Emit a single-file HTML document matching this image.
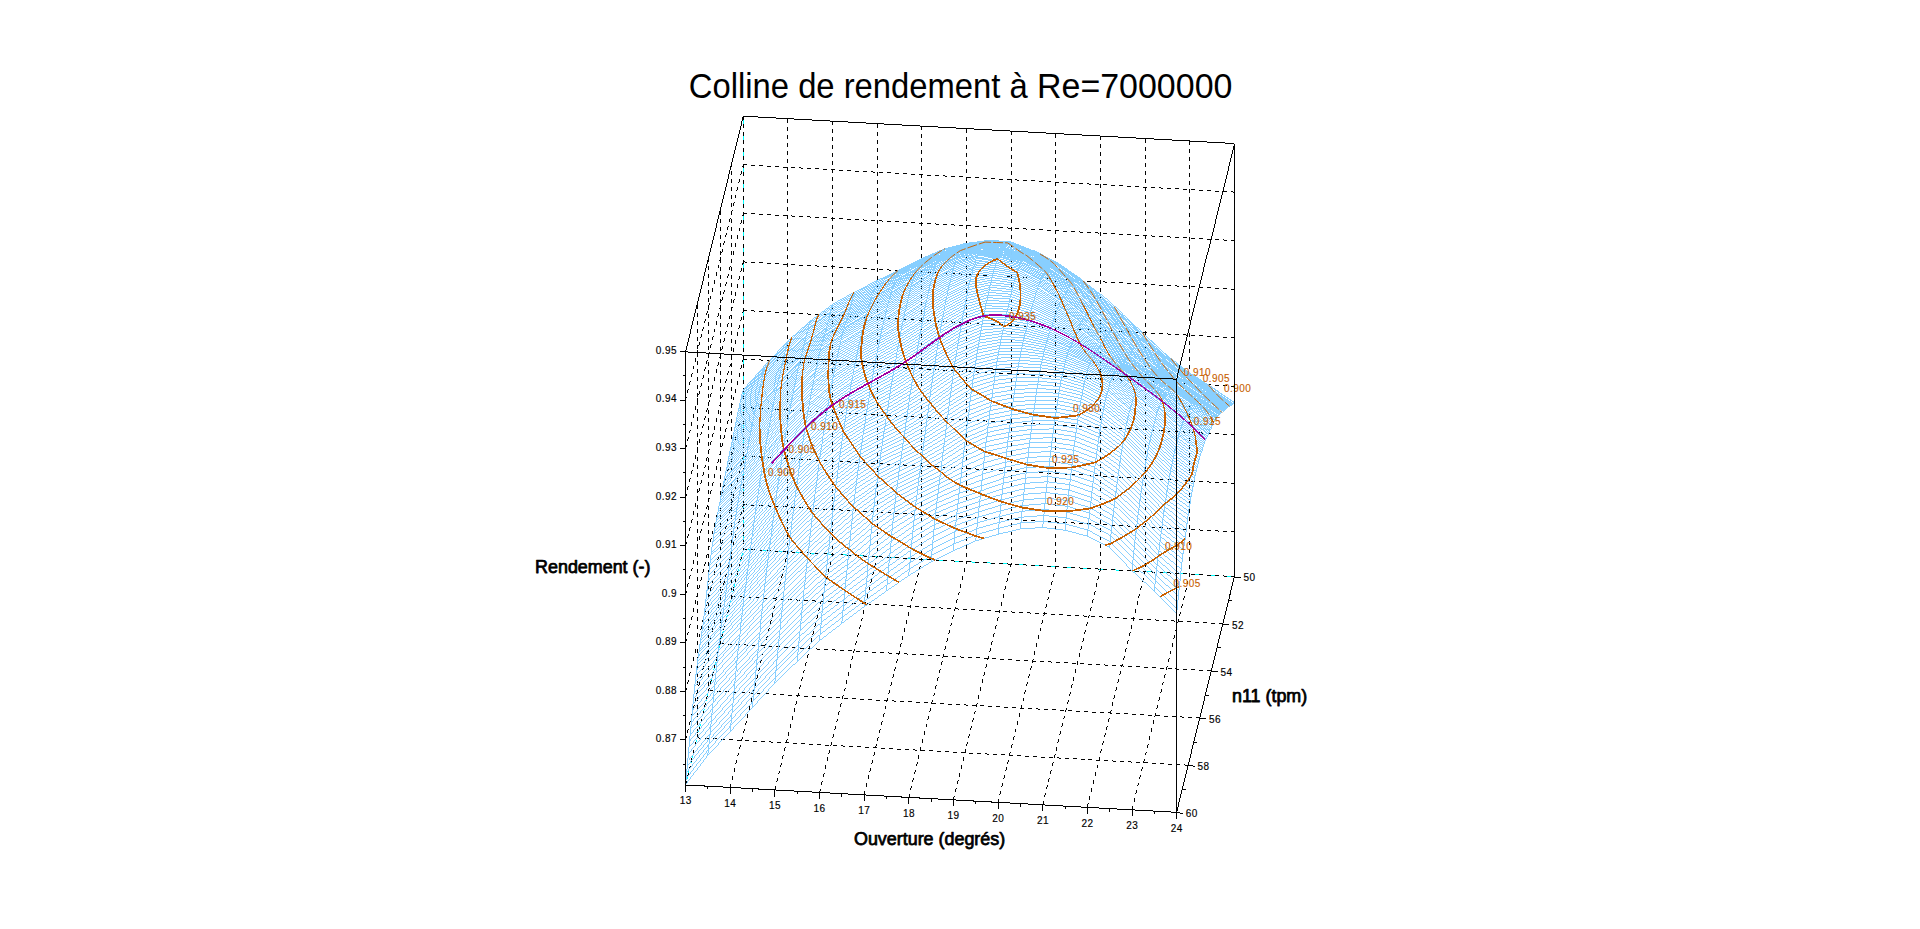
<!DOCTYPE html>
<html lang="fr"><head><meta charset="utf-8"><title>Colline de rendement</title>
<style>html,body{margin:0;padding:0;background:#fff}body{width:1920px;height:929px;overflow:hidden}svg{display:block}text{font-family:"Liberation Sans",sans-serif}</style></head><body>
<svg width="1920" height="929" viewBox="0 0 1920 929">
<rect width="1920" height="929" fill="#fff"/>
<g font-size="33.2" fill="#000">
<text transform="translate(688.85,98.2) scale(0.9876,1.075)">Colline de rendement à</text>
<text transform="translate(1232.4,98.2) scale(1.023,1.075)" text-anchor="end">Re=7000000</text>
</g>
<g shape-rendering="crispEdges" fill="none" stroke-width="0.99">
<path d="M743.3 116.2L743.3 549.3M743.3 549.3L1234.4 576.6M743.3 549.3L685.5 785" stroke="#00ffff" stroke-dasharray="8 8" stroke-dashoffset="12"/>
<path d="M743.3 116.2L743.3 549.3M685.5 785L743.3 549.3M787.9 118.7L787.9 551.8M730.1 787.5L787.9 551.8M832.6 121.2L832.6 554.3M774.8 790L832.6 554.3M877.2 123.7L877.2 556.7M819.4 792.4L877.2 556.7M921.9 126.2L921.9 559.2M864.1 794.9L921.9 559.2M966.5 128.6L966.5 561.7M908.7 797.4L966.5 561.7M1011.2 131.1L1011.2 564.2M953.4 799.9L1011.2 564.2M1055.8 133.6L1055.8 566.7M998 802.4L1055.8 566.7M1100.5 136.1L1100.5 569.2M1042.7 804.9L1100.5 569.2M1145.1 138.6L1145.1 571.6M1087.3 807.3L1145.1 571.6M1189.8 141.1L1189.8 574.1M1132 809.8L1189.8 574.1M1234.4 143.5L1234.4 576.6M1176.6 812.3L1234.4 576.6M743.3 549.3L1234.4 576.6M743.3 116.2L743.3 549.3M731.7 596.4L1222.8 623.7M731.7 163.4L731.7 596.4M720.2 643.6L1211.3 670.9M720.2 210.5L720.2 643.6M708.6 690.7L1199.7 718M708.6 257.7L708.6 690.7M697.1 737.9L1188.2 765.2M697.1 304.8L697.1 737.9M685.5 785L1176.6 812.3M685.5 351.9L685.5 785M743.3 504.6L1234.4 531.9M685.5 740.3L743.3 504.6M743.3 456.1L1234.4 483.4M685.5 691.8L743.3 456.1M743.3 407.5L1234.4 434.8M685.5 643.2L743.3 407.5M743.3 359L1234.4 386.3M685.5 594.7L743.3 359M743.3 310.4L1234.4 337.7M685.5 546.1L743.3 310.4M743.3 261.9L1234.4 289.2M685.5 497.6L743.3 261.9M743.3 213.3L1234.4 240.6M685.5 449L743.3 213.3M743.3 164.8L1234.4 192.1M685.5 400.5L743.3 164.8" stroke="#000" stroke-dasharray="4 4"/>
</g>
<path shape-rendering="crispEdges" fill="none" stroke="#87ceff" stroke-width="0.99" d="M743.3,389.7 765.6,364.7 787.9,340.9 810.3,321 832.6,304.2 854.9,291.9 877.2,280.6 899.6,269.7 921.9,258.4 944.2,249 966.5,243.2 988.8,240.3 1011.2,241.9 1033.5,250.9 1055.8,261.7 1078.1,276.9 1100.5,294.5 1122.8,314.4 1145.1,335 1167.4,355.7 1189.8,373 1212.1,387.3 1234.4,402.5M742.7,391.8 765,366.7 787.4,342.9 809.7,323 832,306.3 854.3,293.7 876.7,282.2 899,271.1 921.3,259.5 943.6,249.8 965.9,243.7 988.3,240.4 1010.6,241.8 1032.9,250.9 1055.2,262.1 1077.6,277.3 1099.9,295.1 1122.2,315.1 1144.5,335.7 1166.8,356.3 1189.2,373.6 1211.5,388 1233.8,403.2M742.1,394 764.5,368.7 786.8,345.1 809.1,325.1 831.4,308.4 853.8,295.6 876.1,283.8 898.4,272.4 920.7,260.7 943,250.7 965.4,244.1 987.7,240.5 1010,241.9 1032.3,250.9 1054.7,262.6 1077,277.8 1099.3,295.8 1121.6,315.8 1143.9,336.4 1166.3,356.8 1188.6,374.1 1210.9,388.7 1233.2,403.7M741.6,396.3 763.9,370.8 786.2,347.3 808.5,327.3 830.9,310.6 853.2,297.6 875.5,285.5 897.8,273.7 920.1,261.9 942.5,251.7 964.8,244.7 987.1,240.7 1009.4,242 1031.8,251 1054.1,263.1 1076.4,278.4 1098.7,296.5 1121,316.5 1143.4,337.1 1165.7,357.3 1188,374.6 1210.3,389.4 1232.7,404.2M741,398.7 763.3,372.9 785.6,349.6 808,329.5 830.3,312.9 852.6,299.6 874.9,287.2 897.2,275.1 919.6,263.1 941.9,252.7 964.2,245.2 986.5,241 1008.9,242.1 1031.2,251.2 1053.5,263.6 1075.8,279 1098.1,297.2 1120.5,317.2 1142.8,337.7 1165.1,357.7 1187.4,375 1209.8,390 1232.1,404.6M740.4,401.1 762.7,375.2 785.1,352 807.4,331.8 829.7,315.2 852,301.7 874.3,289 896.7,276.6 919,264.4 941.3,253.7 963.6,245.9 986,241.3 1008.3,242.3 1030.6,251.6 1052.9,264.2 1075.2,279.6 1097.6,297.9 1119.9,318 1142.2,338.4 1164.5,358.1 1186.9,375.4 1209.2,390.5 1231.5,405M739.8,403.7 762.2,377.6 784.5,354.4 806.8,334.2 829.1,317.5 851.4,303.7 873.8,290.7 896.1,278.1 918.4,265.7 940.7,254.7 963.1,246.6 985.4,241.9 1007.7,242.7 1030,252.1 1052.3,264.8 1074.7,280.2 1097,298.7 1119.3,318.7 1141.6,339 1164,358.6 1186.3,375.8 1208.6,391 1230.9,405.3M739.3,406.4 761.6,380.1 783.9,356.9 806.2,336.6 828.5,319.8 850.9,305.8 873.2,292.5 895.5,279.6 917.8,267.1 940.2,255.8 962.5,247.4 984.8,242.5 1007.1,243.4 1029.4,252.7 1051.8,265.3 1074.1,280.8 1096.4,299.4 1118.7,319.5 1141.1,339.7 1163.4,359.1 1185.7,376.3 1208,391.5 1230.3,405.7M738.7,409.1 761,382.6 783.3,359.4 805.6,339 828,322 850.3,307.9 872.6,294.3 894.9,281.2 917.3,268.5 939.6,256.9 961.9,248.3 984.2,243.3 1006.5,244.4 1028.9,253.4 1051.2,265.9 1073.5,281.3 1095.8,300.1 1118.2,320.2 1140.5,340.3 1162.8,359.6 1185.1,376.8 1207.4,391.9 1229.8,406M738.1,411.8 760.4,385.2 782.7,361.8 805.1,341.3 827.4,324.3 849.7,309.9 872,296.1 894.4,282.8 916.7,269.9 939,258.1 961.3,249.2 983.6,244.2 1006,245.4 1028.3,254.2 1050.6,266.4 1072.9,281.9 1095.3,300.8 1117.6,320.9 1139.9,341 1162.2,360.1 1184.5,377.2 1206.9,392.4 1229.2,406.4M737.5,414.6 759.8,387.8 782.2,364.3 804.5,343.6 826.8,326.4 849.1,312 871.5,297.9 893.8,284.5 916.1,271.4 938.4,259.3 960.7,250.1 983.1,245.1 1005.4,246.4 1027.7,255 1050,267 1072.4,282.4 1094.7,301.4 1117,321.7 1139.3,341.7 1161.6,360.7 1184,377.7 1206.3,392.9 1228.6,406.9M736.9,417.4 759.3,390.4 781.6,366.7 803.9,345.9 826.2,328.5 848.6,313.9 870.9,299.8 893.2,286.2 915.5,272.9 937.8,260.5 960.2,251 982.5,246 1004.8,247.4 1027.1,255.7 1049.5,267.6 1071.8,283 1094.1,302.1 1116.4,322.4 1138.7,342.3 1161.1,361.3 1183.4,378.3 1205.7,393.4 1228,407.4M736.4,420.2 758.7,393.1 781,369.2 803.3,348.2 825.7,330.6 848,315.8 870.3,301.6 892.6,288 914.9,274.5 937.3,261.8 959.6,252 981.9,247 1004.2,248.3 1026.6,256.3 1048.9,268.2 1071.2,283.7 1093.5,302.9 1115.8,323.2 1138.2,343 1160.5,361.9 1182.8,378.8 1205.1,393.8 1227.5,407.9M735.8,423.1 758.1,395.8 780.4,371.7 802.8,350.4 825.1,332.6 847.4,317.6 869.7,303.5 892,289.8 914.4,276.2 936.7,263.1 959,253.1 981.3,247.9 1003.7,249.1 1026,256.9 1048.3,268.9 1070.6,284.4 1092.9,303.6 1115.3,323.9 1137.6,343.7 1159.9,362.5 1182.2,379.3 1204.6,394.3 1226.9,408.4M735.2,426 757.5,398.6 779.9,374.2 802.2,352.7 824.5,334.6 846.8,319.5 869.1,305.4 891.5,291.7 913.8,277.9 936.1,264.6 958.4,254.3 980.8,248.9 1003.1,249.9 1025.4,257.5 1047.7,269.5 1070,285.2 1092.4,304.4 1114.7,324.7 1137,344.4 1159.3,363.1 1181.7,379.9 1204,394.8 1226.3,408.9M734.6,429 757,401.4 779.3,376.8 801.6,355 823.9,336.6 846.2,321.3 868.6,307.3 890.9,293.6 913.2,279.7 935.5,266.1 957.9,255.6 980.2,250 1002.5,250.7 1024.8,258.1 1047.1,270.2 1069.5,286 1091.8,305.2 1114.1,325.5 1136.4,345.2 1158.8,363.7 1181.1,380.4 1203.4,395.3 1225.7,409.4M734.1,431.9 756.4,404.2 778.7,379.3 801,357.2 823.3,338.6 845.7,323.2 868,309.3 890.3,295.6 912.6,281.5 935,267.6 957.3,256.9 979.6,251.1 1001.9,251.5 1024.2,258.7 1046.6,270.8 1068.9,286.9 1091.2,306.1 1113.5,326.3 1135.9,345.9 1158.2,364.3 1180.5,381 1202.8,395.8 1225.1,409.9M733.5,434.9 755.8,407 778.1,381.9 800.4,359.5 822.8,340.6 845.1,325.1 867.4,311.2 889.7,297.6 912.1,283.4 934.4,269.3 956.7,258.3 979,252.2 1001.3,252.3 1023.7,259.4 1046,271.5 1068.3,287.7 1090.6,306.9 1113,327.1 1135.3,346.6 1157.6,365 1179.9,381.5 1202.2,396.3 1224.6,410.3M732.9,437.7 755.2,409.8 777.5,384.5 799.9,361.8 822.2,342.6 844.5,327 866.8,313.3 889.2,299.6 911.5,285.4 933.8,271 956.1,259.8 978.4,253.4 1000.8,253.2 1023.1,260.1 1045.4,272.3 1067.7,288.6 1090.1,307.8 1112.4,327.9 1134.7,347.4 1157,365.6 1179.3,382 1201.7,396.7 1224,410.8M732.3,440.4 754.6,412.6 777,387.1 799.3,364.1 821.6,344.7 843.9,329 866.3,315.3 888.6,301.8 910.9,287.4 933.2,272.9 955.5,261.5 977.9,254.7 1000.2,254.1 1022.5,260.8 1044.8,273.1 1067.2,289.5 1089.5,308.6 1111.8,328.8 1134.1,348.1 1156.4,366.2 1178.8,382.5 1201.1,397.2 1223.4,411.3M731.7,443.1 754.1,415.4 776.4,389.8 798.7,366.5 821,346.9 843.4,331.1 865.7,317.4 888,303.9 910.3,289.6 932.6,274.9 955,263.2 977.3,256 999.6,255 1021.9,261.6 1044.3,274 1066.6,290.5 1088.9,309.5 1111.2,329.6 1133.5,348.9 1155.9,366.8 1178.2,383 1200.5,397.6 1222.8,411.8M731.2,445.8 753.5,418.3 775.8,392.6 798.1,369 820.5,349.1 842.8,333.2 865.1,319.6 887.4,306.2 909.7,291.8 932.1,277.1 954.4,265 976.7,257.5 999,256 1021.4,262.6 1043.7,275 1066,291.5 1088.3,310.4 1110.6,330.4 1133,349.6 1155.3,367.5 1177.6,383.4 1199.9,398 1222.3,412.3M730.6,448.5 752.9,421.2 775.2,395.3 797.6,371.6 819.9,351.5 842.2,335.4 864.5,321.9 886.8,308.4 909.2,294.1 931.5,279.3 953.8,267 976.1,259 998.5,257.1 1020.8,263.6 1043.1,276 1065.4,292.5 1087.7,311.3 1110.1,331.2 1132.4,350.4 1154.7,368.1 1177,383.9 1199.4,398.4 1221.7,412.8M730,451.3 752.3,424.1 774.7,398.1 797,374.3 819.3,353.9 841.6,337.7 863.9,324.2 886.3,310.8 908.6,296.5 930.9,281.6 953.2,269 975.6,260.7 997.9,258.4 1020.2,264.7 1042.5,277.1 1064.8,293.5 1087.2,312.2 1109.5,332 1131.8,351.2 1154.1,368.8 1176.5,384.3 1198.8,398.8 1221.1,413.3M729.4,454.1 751.8,427 774.1,401 796.4,377 818.7,356.4 841,340.1 863.4,326.5 885.7,313.1 908,298.8 930.3,284 952.7,271.1 975,262.5 997.3,259.9 1019.6,265.9 1041.9,278.2 1064.3,294.6 1086.6,313.1 1108.9,332.7 1131.2,351.9 1153.6,369.4 1175.9,384.8 1198.2,399.2 1220.5,413.8M728.8,456.9 751.2,429.9 773.5,403.8 795.8,379.7 818.1,359 840.5,342.6 862.8,328.9 885.1,315.5 907.4,301.3 929.8,286.4 952.1,273.3 974.4,264.3 996.7,261.6 1019,267.2 1041.4,279.3 1063.7,295.6 1086,314 1108.3,333.5 1130.7,352.7 1153,370.1 1175.3,385.3 1197.6,399.6 1219.9,414.3M728.3,459.8 750.6,432.9 772.9,406.7 795.2,382.6 817.6,361.7 839.9,345.1 862.2,331.3 884.5,317.9 906.9,303.8 929.2,288.9 951.5,275.5 973.8,266.3 996.1,263.4 1018.5,268.6 1040.8,280.6 1063.1,296.7 1085.4,314.9 1107.8,334.3 1130.1,353.5 1152.4,370.8 1174.7,385.8 1197,400 1219.4,414.8M727.7,462.7 750,436 772.3,409.7 794.7,385.4 817,364.5 839.3,347.7 861.6,333.8 884,320.4 906.3,306.3 928.6,291.4 950.9,277.9 973.2,268.3 995.6,265.2 1017.9,270 1040.2,281.8 1062.5,297.9 1084.9,315.8 1107.2,335.1 1129.5,354.3 1151.8,371.4 1174.1,386.2 1196.5,400.4 1218.8,415.4M727.1,465.5 749.4,439 771.8,412.7 794.1,388.3 816.4,367.3 838.7,350.3 861.1,336.3 883.4,322.9 905.7,308.8 928,293.9 950.3,280.3 972.7,270.4 995,267.1 1017.3,271.6 1039.6,283.2 1062,299 1084.3,316.8 1106.6,335.9 1128.9,355 1151.2,372.1 1173.6,386.7 1195.9,400.7 1218.2,415.9M726.5,468.4 748.9,442.1 771.2,415.8 793.5,391.2 815.8,370.1 838.2,353 860.5,338.8 882.8,325.4 905.1,311.4 927.4,296.6 949.8,282.7 972.1,272.5 994.4,269.1 1016.7,273.2 1039.1,284.6 1061.4,300.2 1083.7,317.7 1106,336.7 1128.3,355.8 1150.7,372.8 1173,387.1 1195.3,401.1 1217.6,416.5M726,471.3 748.3,445.2 770.6,418.9 792.9,394.1 815.2,372.9 837.6,355.6 859.9,341.4 882.2,328 904.5,314.1 926.9,299.2 949.2,285.3 971.5,274.8 993.8,271.1 1016.2,275 1038.5,286.1 1060.8,301.5 1083.1,318.7 1105.4,337.5 1127.8,356.5 1150.1,373.4 1172.4,387.5 1194.7,401.5 1217.1,417.2M725.4,474.2 747.7,448.4 770,422 792.3,397.1 814.7,375.8 837,358.3 859.3,343.9 881.6,330.5 904,316.7 926.3,302 948.6,287.9 970.9,277.1 993.3,273.2 1015.6,276.9 1037.9,287.6 1060.2,302.7 1082.5,319.7 1104.9,338.2 1127.2,357.2 1149.5,374.1 1171.8,387.8 1194.2,401.9 1216.5,417.9M724.8,477.1 747.1,451.5 769.4,425.2 791.8,400.1 814.1,378.6 836.4,361.1 858.7,346.5 881.1,333.2 903.4,319.4 925.7,304.8 948,290.6 970.4,279.6 992.7,275.4 1015,278.8 1037.3,289.2 1059.6,304 1082,320.7 1104.3,339 1126.6,358 1148.9,374.6 1171.3,388 1193.6,402.4 1215.9,418.7M724.2,480 746.5,454.7 768.9,428.4 791.2,403.1 813.5,381.5 835.8,363.8 858.2,349.1 880.5,335.8 902.8,322.2 925.1,307.6 947.5,293.3 969.8,282.1 992.1,277.6 1014.4,280.9 1036.7,290.9 1059.1,305.3 1081.4,321.8 1103.7,339.8 1126,358.7 1148.4,375.2 1170.7,388.2 1193,403 1215.3,419.6M723.6,483 746,457.9 768.3,431.7 790.6,406.2 812.9,384.5 835.3,366.6 857.6,351.8 879.9,338.5 902.2,325 924.6,310.5 946.9,296.2 969.2,284.6 991.5,280 1013.8,283 1036.2,292.6 1058.5,306.6 1080.8,322.8 1103.1,340.7 1125.5,359.5 1147.8,375.8 1170.1,388.6 1192.4,403.7 1214.7,420.5M723.1,485.9 745.4,461.1 767.7,435 790,409.3 812.4,387.4 834.7,369.4 857,354.4 879.3,341.2 901.6,327.8 924,313.5 946.3,299 968.6,287.3 990.9,282.4 1013.3,285.2 1035.6,294.4 1057.9,308 1080.2,323.9 1102.6,341.6 1124.9,360.2 1147.2,376.3 1169.5,389.3 1191.8,404.6 1214.2,421.6M722.5,488.8 744.8,464.3 767.1,438.3 789.5,412.4 811.8,390.4 834.1,372.2 856.4,357.2 878.7,344 901.1,330.8 923.4,316.5 945.7,302 968,290 990.4,284.8 1012.7,287.4 1035,296.3 1057.3,309.4 1079.7,325.1 1102,342.6 1124.3,361 1146.6,376.9 1168.9,390.1 1191.3,405.6 1213.6,422.7M721.9,491.8 744.2,467.5 766.6,441.8 788.9,415.6 811.2,393.4 833.5,375 855.8,360 878.2,346.9 900.5,333.7 922.8,319.5 945.1,304.9 967.5,292.7 989.8,287.3 1012.1,289.6 1034.4,298.2 1056.8,310.9 1079.1,326.3 1101.4,343.7 1123.7,361.7 1146,377.5 1168.4,391 1190.7,406.7 1213,424M721.3,494.7 743.7,470.7 766,445.2 788.3,418.9 810.6,396.5 832.9,378 855.3,362.9 877.6,349.8 899.9,336.7 922.2,322.6 944.6,307.9 966.9,295.5 989.2,289.8 1011.5,291.9 1033.9,300.2 1056.2,312.5 1078.5,327.6 1100.8,344.7 1123.1,362.4 1145.5,378.1 1167.8,391.8 1190.1,407.9 1212.4,425.4M720.8,497.6 743.1,473.9 765.4,448.6 787.7,422.2 810,399.7 832.4,380.9 854.7,365.8 877,352.8 899.3,339.8 921.7,325.6 944,310.9 966.3,298.4 988.6,292.4 1011,294.3 1033.3,302.2 1055.6,314.1 1077.9,328.9 1100.2,345.8 1122.6,363.1 1144.9,378.7 1167.2,392.7 1189.5,409 1211.9,426.7M720.2,500.5 742.5,477 764.8,452 787.1,425.5 809.5,402.8 831.8,383.9 854.1,368.8 876.4,355.8 898.8,342.9 921.1,328.7 943.4,314 965.7,301.3 988,295 1010.4,296.6 1032.7,304.2 1055,315.7 1077.3,330.2 1099.7,346.9 1122,363.8 1144.3,379.2 1166.6,393.5 1189,410.2 1211.3,428M719.6,503.4 741.9,480.2 764.2,455.4 786.6,428.8 808.9,406.1 831.2,387 853.5,371.9 875.9,358.9 898.2,346 920.5,331.9 942.8,317.1 965.1,304.2 987.5,297.7 1009.8,299.1 1032.1,306.3 1054.4,317.4 1076.8,331.6 1099.1,347.9 1121.4,364.4 1143.7,379.7 1166.1,394.3 1188.4,411.4 1210.7,429.2M719,506.3 741.3,483.4 763.7,458.9 786,432.2 808.3,409.4 830.6,390.1 853,374.9 875.3,362 897.6,349.1 919.9,335 942.2,320.2 964.6,307.2 986.9,300.4 1009.2,301.5 1031.5,308.4 1053.9,319.2 1076.2,333 1098.5,348.9 1120.8,365 1143.2,380.1 1165.5,395 1187.8,412.5 1210.1,430.3M718.4,509.3 740.8,486.6 763.1,462.4 785.4,435.6 807.7,412.7 830.1,393.2 852.4,378 874.7,365.1 897,352.3 919.3,338.2 941.7,323.3 964,310.2 986.3,303.1 1008.6,304 1031,310.6 1053.3,320.9 1075.6,334.4 1097.9,349.9 1120.3,365.6 1142.6,380.6 1164.9,395.7 1187.2,413.6 1209.5,431.5M717.9,512.2 740.2,489.8 762.5,466 784.8,439.2 807.2,416.1 829.5,396.4 851.8,381.1 874.1,368.3 896.4,355.5 918.8,341.5 941.1,326.6 963.4,313.3 985.7,305.8 1008.1,306.5 1030.4,312.8 1052.7,322.7 1075,335.8 1097.4,350.9 1119.7,366.2 1142,381 1164.3,396.4 1186.6,414.7 1209,432.6M717.3,515.2 739.6,493 761.9,469.6 784.3,442.8 806.6,419.4 828.9,399.6 851.2,384.3 873.5,371.4 895.9,358.8 918.2,344.8 940.5,329.8 962.8,316.4 985.2,308.6 1007.5,309.1 1029.8,315 1052.1,324.5 1074.4,337.2 1096.8,351.8 1119.1,366.8 1141.4,381.5 1163.7,397.1 1186.1,415.8 1208.4,433.8M716.7,518.3 739,496.3 761.4,473.2 783.7,446.5 806,422.9 828.3,402.9 850.6,387.5 873,374.7 895.3,362 917.6,348.1 939.9,333.1 962.3,319.5 984.6,311.5 1006.9,311.7 1029.2,317.2 1051.5,326.3 1073.9,338.6 1096.2,352.8 1118.5,367.4 1140.8,382.1 1163.2,397.8 1185.5,416.9 1207.8,435M716.1,521.3 738.5,499.6 760.8,476.7 783.1,450.2 805.4,426.4 827.7,406.3 850.1,390.7 872.4,377.9 894.7,365.4 917,351.4 939.4,336.4 961.7,322.7 984,314.4 1006.3,314.3 1028.6,319.4 1051,328.1 1073.3,340 1095.6,353.7 1117.9,368.1 1140.3,382.8 1162.6,398.8 1184.9,418.1 1207.2,436.2M715.6,524.5 737.9,502.9 760.2,480.3 782.5,453.8 804.8,429.9 827.2,409.8 849.5,394 871.8,381.2 894.1,368.7 916.5,354.8 938.8,339.7 961.1,326 983.4,317.4 1005.7,317 1028.1,321.7 1050.4,329.9 1072.7,341.4 1095,354.7 1117.4,368.8 1139.7,383.6 1162,399.9 1184.3,419.3 1206.7,437.4M715,527.7 737.3,506.4 759.6,484 781.9,457.5 804.3,433.6 826.6,413.3 848.9,397.3 871.2,384.5 893.6,372.1 915.9,358.2 938.2,343.1 960.5,329.3 982.8,320.5 1005.2,319.7 1027.5,323.9 1049.8,331.7 1072.1,342.8 1094.5,355.7 1116.8,369.5 1139.1,384.5 1161.4,401.1 1183.8,420.6 1206.1,438.7M714.4,531.1 736.7,509.9 759,487.7 781.4,461.3 803.7,437.2 826,416.9 848.3,400.7 870.7,387.9 893,375.4 915.3,361.6 937.6,346.5 959.9,332.6 982.3,323.7 1004.6,322.4 1026.9,326.2 1049.2,333.6 1071.6,344.1 1093.9,356.7 1116.2,370.3 1138.5,385.4 1160.8,402.4 1183.2,422 1205.5,440.1M713.8,534.6 736.1,513.5 758.5,491.5 780.8,465.2 803.1,441 825.4,420.6 847.8,404.2 870.1,391.3 892.4,378.9 914.7,365 937,349.9 959.4,336 981.7,326.9 1004,325.2 1026.3,328.5 1048.7,335.4 1071,345.5 1093.3,357.6 1115.6,371.2 1137.9,386.5 1160.3,403.8 1182.6,423.5 1204.9,441.6M713.2,538.5 735.6,517.3 757.9,495.4 780.2,469.2 802.5,444.7 824.9,424.2 847.2,407.6 869.5,394.7 891.8,382.3 914.1,368.5 936.5,353.4 958.8,339.5 981.1,330.2 1003.4,327.9 1025.8,330.8 1048.1,337.3 1070.4,346.9 1092.7,358.6 1115,372.1 1137.4,387.7 1159.7,405.4 1182,425 1204.3,443.1M712.7,542.5 735,521.2 757.3,499.3 779.6,473.2 802,448.5 824.3,428 846.6,411.2 868.9,398.2 891.2,385.8 913.6,372 935.9,356.9 958.2,342.9 980.5,333.5 1002.9,330.7 1025.2,333.1 1047.5,339.1 1069.8,348.2 1092.1,359.6 1114.5,373 1136.8,388.9 1159.1,407 1181.4,426.7 1203.8,444.7M712.1,546.7 734.4,525.3 756.7,503.1 779.1,477.2 801.4,452.3 823.7,431.8 846,414.8 868.3,401.7 890.7,389.4 913,375.6 935.3,360.5 957.6,346.4 980,336.7 1002.3,333.6 1024.6,335.5 1046.9,341.1 1069.2,349.7 1091.6,360.6 1113.9,374 1136.2,390.2 1158.5,408.7 1180.9,428.4 1203.2,446.3M711.5,551 733.8,529.4 756.2,507.1 778.5,481.1 800.8,456.1 823.1,435.7 845.4,418.4 867.8,405.2 890.1,393 912.4,379.2 934.7,364.1 957.1,349.9 979.4,340 1001.7,336.4 1024,337.9 1046.3,343 1068.7,351.1 1091,361.7 1113.3,375.1 1135.6,391.6 1158,410.4 1180.3,430.2 1202.6,447.9M710.9,555.5 733.3,533.7 755.6,511.1 777.9,485.1 800.2,460.1 822.5,439.6 844.9,422.1 867.2,408.8 889.5,396.6 911.8,382.9 934.2,367.8 956.5,353.4 978.8,343.3 1001.1,339.4 1023.4,340.4 1045.8,345.1 1068.1,352.7 1090.4,362.9 1112.7,376.3 1135.1,393.1 1157.4,412.2 1179.7,432.1 1202,449.5M710.4,560.2 732.7,538.2 755,515.2 777.3,489.3 799.6,464.1 822,443.6 844.3,425.8 866.6,412.4 888.9,400.3 911.3,386.7 933.6,371.6 955.9,357 978.2,346.7 1000.5,342.3 1022.9,343 1045.2,347.2 1067.5,354.3 1089.8,364.2 1112.2,377.5 1134.5,394.7 1156.8,414.1 1179.1,434.1 1201.4,451.2M709.8,565.2 732.1,542.7 754.4,519.4 776.7,493.5 799.1,468.3 821.4,447.6 843.7,429.6 866,416 888.4,404.1 910.7,390.5 933,375.4 955.3,360.6 977.6,350 1000,345.4 1022.3,345.6 1044.6,349.4 1066.9,356.1 1089.3,365.6 1111.6,378.9 1133.9,396.4 1156.2,416.1 1178.5,436.1 1200.9,453M709.2,570.3 731.5,547.3 753.8,523.6 776.2,497.8 798.5,472.5 820.8,451.6 843.1,433.3 865.5,419.7 887.8,407.9 910.1,394.4 932.4,379.3 954.7,364.2 977.1,353.4 999.4,348.4 1021.7,348.3 1044,351.7 1066.4,357.9 1088.7,367.1 1111,380.4 1133.3,398.2 1155.6,418.2 1178,438.3 1200.3,454.9M708.6,575.4 730.9,552.1 753.3,527.9 775.6,502.1 797.9,476.8 820.2,455.6 842.6,437.2 864.9,423.4 887.2,411.7 909.5,398.4 931.8,383.3 954.2,368 976.5,356.9 998.8,351.6 1021.1,351.1 1043.5,354.1 1065.8,359.9 1088.1,368.7 1110.4,382 1132.7,400 1155.1,420.3 1177.4,440.5 1199.7,457.2M708,580.6 730.4,556.8 752.7,532.3 775,506.4 797.3,481.1 819.7,459.6 842,441.1 864.3,427.1 886.6,415.4 908.9,402.4 931.3,387.4 953.6,371.9 975.9,360.4 998.2,354.8 1020.6,354 1042.9,356.6 1065.2,362 1087.5,370.5 1109.8,383.7 1132.2,401.9 1154.5,422.4 1176.8,442.8 1199.1,459.6M707.5,585.9 729.8,561.6 752.1,536.6 774.4,510.6 796.8,485.4 819.1,463.8 841.4,445.2 863.7,430.9 886,419.2 908.4,406.4 930.7,391.6 953,375.9 975.3,364 997.7,358.2 1020,357 1042.3,359.2 1064.6,364.2 1086.9,372.4 1109.3,385.5 1131.6,403.9 1153.9,424.6 1176.2,445.1 1198.6,462M706.9,591 729.2,566.4 751.5,541 773.9,514.9 796.2,489.7 818.5,468 840.8,449.3 863.1,434.7 885.5,423 907.8,410.4 930.1,395.9 952.4,380 974.8,367.7 997.1,361.6 1019.4,360.2 1041.7,361.9 1064,366.5 1086.4,374.5 1108.7,387.4 1131,405.9 1153.3,426.8 1175.7,447.5 1198,464.4M706.3,596.1 728.6,571.2 751,545.4 773.3,519.3 795.6,494 817.9,472.2 840.2,453.4 862.6,438.5 884.9,426.8 907.2,414.5 929.5,400.1 951.9,384.2 974.2,371.4 996.5,365.1 1018.8,363.4 1041.1,364.8 1063.5,369 1085.8,376.7 1108.1,389.5 1130.4,408 1152.8,429.1 1175.1,449.9 1197.4,466.8M705.7,601.1 728.1,576 750.4,549.9 772.7,523.6 795,498.4 817.3,476.5 839.7,457.5 862,442.4 884.3,430.6 906.6,418.6 929,404.4 951.3,388.4 973.6,375.3 995.9,368.8 1018.2,366.8 1040.6,367.8 1062.9,371.6 1085.2,379 1107.5,391.6 1129.9,410.1 1152.2,431.4 1174.5,452.3 1196.8,469.1M705.2,606.1 727.5,580.7 749.8,554.3 772.1,528 794.4,502.8 816.8,480.8 839.1,461.8 861.4,446.3 883.7,434.4 906.1,422.6 928.4,408.8 950.7,392.8 973,379.2 995.3,372.6 1017.7,370.3 1040,370.9 1062.3,374.4 1084.6,381.4 1107,393.9 1129.3,412.3 1151.6,433.8 1173.9,454.7 1196.2,471.4M704.6,611 726.9,585.3 749.2,558.7 771.5,532.3 793.9,507.2 816.2,485.2 838.5,466 860.8,450.3 883.2,438.2 905.5,426.7 927.8,413.1 950.1,397.2 972.4,383.4 994.8,376.5 1017.1,373.9 1039.4,374.2 1061.7,377.2 1084.1,384 1106.4,396.2 1128.7,414.5 1151,436.2 1173.3,457.2 1195.7,473.5M704,615.8 726.3,589.9 748.6,563.1 771,536.7 793.3,511.6 815.6,489.6 837.9,470.4 860.3,454.3 882.6,442.1 904.9,430.7 927.2,417.4 949.5,401.7 971.9,387.7 994.2,380.5 1016.5,377.6 1038.8,377.6 1061.2,380.2 1083.5,386.7 1105.8,398.7 1128.1,416.9 1150.4,438.8 1172.8,459.8 1195.1,475.7M703.4,620.5 725.7,594.3 748.1,567.4 770.4,541 792.7,516.1 815,494 837.4,474.8 859.7,458.4 882,445.9 904.3,434.7 926.6,421.8 949,406.3 971.3,392.2 993.6,384.6 1015.9,381.5 1038.3,381.1 1060.6,383.4 1082.9,389.5 1105.2,401.3 1127.5,419.3 1149.9,441.4 1172.2,462.5 1194.5,478.4M702.8,625.1 725.2,598.7 747.5,571.8 769.8,545.5 792.1,520.6 814.5,498.6 836.8,479.2 859.1,462.5 881.4,449.8 903.7,438.7 926.1,426 948.4,410.8 970.7,396.7 993,388.9 1015.4,385.4 1037.7,384.7 1060,386.6 1082.3,392.5 1104.6,404 1127,421.9 1149.3,444 1171.6,465.3 1193.9,481.4M702.3,629.4 724.6,602.9 746.9,576.1 769.2,549.9 791.6,525.1 813.9,503.2 836.2,483.7 858.5,466.7 880.8,453.8 903.2,442.7 925.5,430.3 947.8,415.4 970.1,401.3 992.5,393.2 1014.8,389.5 1037.1,388.4 1059.4,390 1081.7,395.5 1104.1,406.9 1126.4,424.6 1148.7,446.8 1171,468.2 1193.4,484.6M701.7,633.4 724,607.1 746.3,580.5 768.7,554.4 791,529.7 813.3,507.9 835.6,488.3 857.9,471 880.3,457.8 902.6,446.8 924.9,434.5 947.2,419.9 969.6,405.9 991.9,397.6 1014.2,393.6 1036.5,392.2 1058.8,393.4 1081.2,398.7 1103.5,409.8 1125.8,427.4 1148.1,449.6 1170.5,471.2 1192.8,487.7M701.1,637.2 723.4,611.2 745.8,584.9 768.1,559 790.4,534.4 812.7,512.7 835,492.9 857.4,475.3 879.7,461.8 902,450.8 924.3,438.7 946.7,424.5 969,410.5 991.3,402 1013.6,397.8 1035.9,396.1 1058.3,397 1080.6,402 1102.9,412.9 1125.2,430.4 1147.6,452.5 1169.9,474.3 1192.2,490.8M700.5,641 722.9,615.3 745.2,589.2 767.5,563.6 789.8,539.3 812.1,517.5 834.5,497.6 856.8,479.8 879.1,466 901.4,454.8 923.8,443 946.1,429 968.4,415.1 990.7,406.3 1013,402 1035.4,400.1 1057.7,400.7 1080,405.4 1102.3,416.1 1124.7,433.4 1147,455.6 1169.3,477.5 1191.6,494M699.9,644.7 722.3,619.3 744.6,593.7 766.9,568.3 789.2,544.2 811.6,522.5 833.9,502.3 856.2,484.3 878.5,470.2 900.9,458.9 923.2,447.2 945.5,433.5 967.8,419.6 990.1,410.6 1012.5,406.2 1034.8,404.1 1057.1,404.5 1079.4,408.9 1101.8,419.4 1124.1,436.5 1146.4,458.7 1168.7,480.7 1191,497.1M699.4,648.5 721.7,623.5 744,598.2 766.3,573.1 788.7,549.2 811,527.6 833.3,507.2 855.6,489 878,474.5 900.3,463 922.6,451.5 944.9,438 967.2,424.1 989.6,414.9 1011.9,410.5 1034.2,408.2 1056.5,408.3 1078.9,412.6 1101.2,422.8 1123.5,439.8 1145.8,461.9 1168.1,484.2 1190.5,500.5M698.8,652.4 721.1,627.7 743.4,602.8 765.8,578 788.1,554.3 810.4,532.7 832.7,512.2 855.1,493.7 877.4,478.9 899.7,467.1 922,455.8 944.3,442.6 966.7,428.6 989,419.2 1011.3,414.7 1033.6,412.4 1056,412.3 1078.3,416.3 1100.6,426.3 1122.9,443.1 1145.2,465.3 1167.6,487.7 1189.9,503.9M698.2,656.4 720.5,632 742.9,607.4 765.2,582.9 787.5,559.5 809.8,537.9 832.2,517.3 854.5,498.6 876.8,483.3 899.1,471.3 921.4,460.1 943.8,447.1 966.1,433 988.4,423.6 1010.7,419 1033.1,416.6 1055.4,416.3 1077.7,420.2 1100,430 1122.3,446.6 1144.7,468.8 1167,491.4 1189.3,507.4M697.6,660.6 720,636.5 742.3,612.2 764.6,587.9 786.9,564.7 809.3,543.1 831.6,522.4 853.9,503.5 876.2,487.8 898.5,475.5 920.9,464.4 943.2,451.7 965.5,437.5 987.8,428 1010.2,423.4 1032.5,420.8 1054.8,420.4 1077.1,424.1 1099.4,433.7 1121.8,450.2 1144.1,472.4 1166.4,495.2 1188.7,511.1M697.1,665.1 719.4,641.2 741.7,617.1 764,593 786.3,569.9 808.7,548.3 831,527.6 853.3,508.6 875.6,492.5 898,479.8 920.3,468.7 942.6,456.4 964.9,442.1 987.3,432.5 1009.6,427.8 1031.9,425.1 1054.2,424.6 1076.5,428.2 1098.9,437.5 1121.2,453.9 1143.5,476.1 1165.8,499 1188.2,514.9M696.5,670.1 718.8,646.1 741.1,622.1 763.4,598.1 785.8,575.1 808.1,553.5 830.4,532.9 852.7,513.7 875.1,497.2 897.4,484.2 919.7,473 942,461.1 964.4,446.9 986.7,437.1 1009,432.3 1031.3,429.4 1053.6,428.9 1076,432.4 1098.3,441.5 1120.6,457.8 1142.9,479.9 1165.3,502.8 1187.6,519M695.9,675.4 718.2,651.2 740.5,627.2 762.9,603.3 785.2,580.4 807.5,558.6 829.8,538.2 852.2,519 874.5,502 896.8,488.6 919.1,477.3 941.5,465.9 963.8,451.9 986.1,441.8 1008.4,437 1030.7,433.9 1053.1,433.3 1075.4,436.7 1097.7,445.6 1120,461.7 1142.4,483.8 1164.7,506.8 1187,523.8M695.3,680.9 717.6,656.5 740,632.5 762.3,608.6 784.6,585.6 806.9,563.8 829.3,543.5 851.6,524.5 873.9,507 896.2,493.1 918.6,481.7 940.9,470.7 963.2,456.9 985.5,446.6 1007.8,441.8 1030.2,438.4 1052.5,437.7 1074.8,441.1 1097.1,449.8 1119.5,465.8 1141.8,487.7 1164.1,510.8 1186.4,528.8M694.7,686.6 717.1,661.9 739.4,637.8 761.7,614 784,590.9 806.4,569 828.7,548.8 851,530 873.3,512 895.7,497.7 918,486.1 940.3,475.2 962.6,462 984.9,451.7 1007.3,446.8 1029.6,443 1051.9,442.3 1074.2,445.6 1096.6,454 1118.9,470 1141.2,491.8 1163.5,515 1185.8,533.5M694.2,692.4 716.5,667.5 738.8,643.3 761.1,619.4 783.5,596.3 805.8,574.3 828.1,554.1 850.4,535.7 872.7,517.2 895.1,502.5 917.4,490.5 939.7,479.7 962,467.2 984.4,457.2 1006.7,451.8 1029,447.7 1051.3,446.9 1073.7,450.2 1096,458.4 1118.3,474.2 1140.6,495.9 1162.9,519.2 1185.3,537.5M693.6,698.3 715.9,673.2 738.2,648.8 760.6,624.9 782.9,601.7 805.2,579.5 827.5,559.3 849.8,541.5 872.2,522.5 894.5,507.4 916.8,495.1 939.1,484.2 961.5,472.5 983.8,462.8 1006.1,456.9 1028.4,452.5 1050.8,451.6 1073.1,454.9 1095.4,463 1117.7,478.6 1140,500 1162.4,523.4 1184.7,541.6M693,704.3 715.3,679 737.7,654.5 760,630.5 782.3,607.1 804.6,584.9 826.9,564.6 849.3,547.3 871.6,528.1 893.9,512.5 916.2,499.8 938.6,488.8 960.9,477.7 983.2,468.5 1005.5,462.1 1027.9,457.4 1050.2,456.4 1072.5,459.7 1094.8,467.6 1117.1,483 1139.5,504.3 1161.8,527.8 1184.1,545.7M692.4,710.3 714.8,684.9 737.1,660.2 759.4,636.1 781.7,612.7 804,590.3 826.4,569.9 848.7,553.1 871,533.9 893.3,517.9 915.7,504.7 938,493.4 960.3,483 982.6,474.2 1005,467.3 1027.3,462.4 1049.6,461.3 1071.9,464.6 1094.2,472.4 1116.6,487.5 1138.9,508.7 1161.2,532.2 1183.5,549.7M691.9,716.5 714.2,690.8 736.5,665.9 758.8,641.8 781.1,618.3 803.5,595.8 825.8,575.3 848.1,558.7 870.4,539.9 892.8,523.4 915.1,509.8 937.4,498.2 959.7,488.2 982.1,479.8 1004.4,472.6 1026.7,467.5 1049,466.3 1071.3,469.5 1093.7,477.2 1116,492 1138.3,513.2 1160.6,536.7 1183,554.2M691.3,722.6 713.6,696.8 735.9,671.8 758.2,647.5 780.6,623.9 802.9,601.3 825.2,580.8 847.5,564.3 869.9,546 892.2,529.2 914.5,515.2 936.8,503.1 959.1,493.4 981.5,485.4 1003.8,477.9 1026.1,472.7 1048.4,471.4 1070.8,474.5 1093.1,482.1 1115.4,496.6 1137.7,517.8 1160.1,541.3 1182.4,559.1M690.7,728.8 713,702.8 735.3,677.7 757.7,653.4 780,629.6 802.3,607 824.6,586.5 847,569.9 869.3,552 891.6,535.3 913.9,520.7 936.2,508.1 958.6,498.6 980.9,490.9 1003.2,483.3 1025.5,478 1047.9,476.5 1070.2,479.5 1092.5,487.1 1114.8,501.2 1137.2,522.4 1159.5,545.9 1181.8,564.1M690.1,735 712.4,708.8 734.8,683.6 757.1,659.2 779.4,635.4 801.7,612.8 824.1,592.4 846.4,575.6 868.7,558.2 891,541.5 913.3,526.4 935.7,513.3 958,503.7 980.3,496.2 1002.6,488.8 1025,483.4 1047.3,481.8 1069.6,484.6 1091.9,492.2 1114.3,505.9 1136.6,527.1 1158.9,550.5 1181.2,569.2M689.5,741.2 711.9,714.7 734.2,689.5 756.5,665.1 778.8,641.3 801.2,618.7 823.5,598.4 845.8,581.4 868.1,564.3 890.4,547.7 912.8,532.2 935.1,518.7 957.4,508.9 979.7,501.4 1002.1,494.2 1024.4,488.8 1046.7,487.1 1069,489.9 1091.4,497.3 1113.7,510.8 1136,531.9 1158.3,555.1 1180.6,574.5M689,747.4 711.3,720.7 733.6,695.5 755.9,671.1 778.3,647.2 800.6,624.7 822.9,604.4 845.2,587.3 867.5,570.4 889.9,553.9 912.2,538.1 934.5,524.4 956.8,514.2 979.2,506.6 1001.5,499.7 1023.8,494.3 1046.1,492.6 1068.5,495.2 1090.8,502.5 1113.1,515.7 1135.4,536.8 1157.7,559.9 1180.1,579.7M688.4,753.7 710.7,726.6 733,701.5 755.4,677.1 777.7,653.1 800,630.7 822.3,610.4 844.6,593.2 867,576.5 889.3,560 911.6,544.1 933.9,530.2 956.3,519.7 978.6,511.9 1000.9,505.2 1023.2,499.9 1045.5,498.1 1067.9,500.7 1090.2,507.8 1112.5,520.7 1134.8,541.9 1157.2,564.8 1179.5,585M687.8,760 710.1,732.5 732.5,707.5 754.8,683.2 777.1,659.1 799.4,636.8 821.7,616.4 844.1,599.2 866.4,582.6 888.7,566.2 911,550.2 933.4,536.3 955.7,525.4 978,517.3 1000.3,510.8 1022.6,505.5 1045,503.7 1067.3,506.3 1089.6,513.2 1111.9,525.8 1134.3,547.2 1156.6,569.8 1178.9,590.5M687.2,766.2 709.6,738.3 731.9,713.5 754.2,689.2 776.5,665.1 798.8,642.9 821.2,622.5 843.5,605.2 865.8,588.7 888.1,572.4 910.5,556.4 932.8,542.6 955.1,531.4 977.4,522.9 999.7,516.5 1022.1,511.2 1044.4,509.5 1066.7,512 1089,518.7 1111.4,531 1133.7,552.7 1156,574.9 1178.3,596.4M686.7,772.4 709,744 731.3,719.6 753.6,695.3 775.9,671.1 798.3,649.1 820.6,628.6 842.9,611.3 865.2,594.7 887.6,578.6 909.9,562.8 932.2,549 954.5,537.7 976.8,528.6 999.2,522.4 1021.5,517.1 1043.8,515.4 1066.1,518 1088.5,524.3 1110.8,536.3 1133.1,558.6 1155.4,580.2 1177.8,602.4M686.1,778.6 708.4,749.7 730.7,725.7 753,701.4 775.4,677.1 797.7,655.3 820,634.6 842.3,617.3 864.7,600.8 887,584.8 909.3,569.2 931.6,555.4 953.9,544.1 976.3,534.7 998.6,528.3 1020.9,523 1043.2,521.4 1065.6,524 1087.9,530.1 1110.2,541.8 1132.5,564.6 1154.9,585.5 1177.2,608.3M685.5,784.6 707.8,755.4 730.1,731.7 752.5,707.4 774.8,683.2 797.1,661.5 819.4,640.7 841.8,623.5 864.1,606.8 886.4,591 908.7,575.6 931,562 953.4,550.7 975.7,540.9 998,534.3 1020.3,529 1042.7,527.5 1065,530.2 1087.3,536.1 1109.6,547.4 1131.9,570.6 1154.3,590.9 1176.6,613.9M743.3,389.7 742.7,391.8 742.1,394 741.6,396.3 741,398.7 740.4,401.1 739.8,403.7 739.3,406.4 738.7,409.1 738.1,411.8 737.5,414.6 736.9,417.4 736.4,420.2 735.8,423.1 735.2,426 734.6,429 734.1,431.9 733.5,434.9 732.9,437.7 732.3,440.4 731.7,443.1 731.2,445.8 730.6,448.5 730,451.3 729.4,454.1 728.8,456.9 728.3,459.8 727.7,462.7 727.1,465.5 726.5,468.4 726,471.3 725.4,474.2 724.8,477.1 724.2,480 723.6,483 723.1,485.9 722.5,488.8 721.9,491.8 721.3,494.7 720.8,497.6 720.2,500.5 719.6,503.4 719,506.3 718.4,509.3 717.9,512.2 717.3,515.2 716.7,518.3 716.1,521.3 715.6,524.5 715,527.7 714.4,531.1 713.8,534.6 713.2,538.5 712.7,542.5 712.1,546.7 711.5,551 710.9,555.5 710.4,560.2 709.8,565.2 709.2,570.3 708.6,575.4 708,580.6 707.5,585.9 706.9,591 706.3,596.1 705.7,601.1 705.2,606.1 704.6,611 704,615.8 703.4,620.5 702.8,625.1 702.3,629.4 701.7,633.4 701.1,637.2 700.5,641 699.9,644.7 699.4,648.5 698.8,652.4 698.2,656.4 697.6,660.6 697.1,665.1 696.5,670.1 695.9,675.4 695.3,680.9 694.7,686.6 694.2,692.4 693.6,698.3 693,704.3 692.4,710.3 691.9,716.5 691.3,722.6 690.7,728.8 690.1,735 689.5,741.2 689,747.4 688.4,753.7 687.8,760 687.2,766.2 686.7,772.4 686.1,778.6 685.5,784.6M765.6,364.7 765,366.7 764.5,368.7 763.9,370.8 763.3,372.9 762.7,375.2 762.2,377.6 761.6,380.1 761,382.6 760.4,385.2 759.8,387.8 759.3,390.4 758.7,393.1 758.1,395.8 757.5,398.6 757,401.4 756.4,404.2 755.8,407 755.2,409.8 754.6,412.6 754.1,415.4 753.5,418.3 752.9,421.2 752.3,424.1 751.8,427 751.2,429.9 750.6,432.9 750,436 749.4,439 748.9,442.1 748.3,445.2 747.7,448.4 747.1,451.5 746.5,454.7 746,457.9 745.4,461.1 744.8,464.3 744.2,467.5 743.7,470.7 743.1,473.9 742.5,477 741.9,480.2 741.3,483.4 740.8,486.6 740.2,489.8 739.6,493 739,496.3 738.5,499.6 737.9,502.9 737.3,506.4 736.7,509.9 736.1,513.5 735.6,517.3 735,521.2 734.4,525.3 733.8,529.4 733.3,533.7 732.7,538.2 732.1,542.7 731.5,547.3 730.9,552.1 730.4,556.8 729.8,561.6 729.2,566.4 728.6,571.2 728.1,576 727.5,580.7 726.9,585.3 726.3,589.9 725.7,594.3 725.2,598.7 724.6,602.9 724,607.1 723.4,611.2 722.9,615.3 722.3,619.3 721.7,623.5 721.1,627.7 720.5,632 720,636.5 719.4,641.2 718.8,646.1 718.2,651.2 717.6,656.5 717.1,661.9 716.5,667.5 715.9,673.2 715.3,679 714.8,684.9 714.2,690.8 713.6,696.8 713,702.8 712.4,708.8 711.9,714.7 711.3,720.7 710.7,726.6 710.1,732.5 709.6,738.3 709,744 708.4,749.7 707.8,755.4M787.9,340.9 787.4,342.9 786.8,345.1 786.2,347.3 785.6,349.6 785.1,352 784.5,354.4 783.9,356.9 783.3,359.4 782.7,361.8 782.2,364.3 781.6,366.7 781,369.2 780.4,371.7 779.9,374.2 779.3,376.8 778.7,379.3 778.1,381.9 777.5,384.5 777,387.1 776.4,389.8 775.8,392.6 775.2,395.3 774.7,398.1 774.1,401 773.5,403.8 772.9,406.7 772.3,409.7 771.8,412.7 771.2,415.8 770.6,418.9 770,422 769.4,425.2 768.9,428.4 768.3,431.7 767.7,435 767.1,438.3 766.6,441.8 766,445.2 765.4,448.6 764.8,452 764.2,455.4 763.7,458.9 763.1,462.4 762.5,466 761.9,469.6 761.4,473.2 760.8,476.7 760.2,480.3 759.6,484 759,487.7 758.5,491.5 757.9,495.4 757.3,499.3 756.7,503.1 756.2,507.1 755.6,511.1 755,515.2 754.4,519.4 753.8,523.6 753.3,527.9 752.7,532.3 752.1,536.6 751.5,541 751,545.4 750.4,549.9 749.8,554.3 749.2,558.7 748.6,563.1 748.1,567.4 747.5,571.8 746.9,576.1 746.3,580.5 745.8,584.9 745.2,589.2 744.6,593.7 744,598.2 743.4,602.8 742.9,607.4 742.3,612.2 741.7,617.1 741.1,622.1 740.5,627.2 740,632.5 739.4,637.8 738.8,643.3 738.2,648.8 737.7,654.5 737.1,660.2 736.5,665.9 735.9,671.8 735.3,677.7 734.8,683.6 734.2,689.5 733.6,695.5 733,701.5 732.5,707.5 731.9,713.5 731.3,719.6 730.7,725.7 730.1,731.7M810.3,321 809.7,323 809.1,325.1 808.5,327.3 808,329.5 807.4,331.8 806.8,334.2 806.2,336.6 805.6,339 805.1,341.3 804.5,343.6 803.9,345.9 803.3,348.2 802.8,350.4 802.2,352.7 801.6,355 801,357.2 800.4,359.5 799.9,361.8 799.3,364.1 798.7,366.5 798.1,369 797.6,371.6 797,374.3 796.4,377 795.8,379.7 795.2,382.6 794.7,385.4 794.1,388.3 793.5,391.2 792.9,394.1 792.3,397.1 791.8,400.1 791.2,403.1 790.6,406.2 790,409.3 789.5,412.4 788.9,415.6 788.3,418.9 787.7,422.2 787.1,425.5 786.6,428.8 786,432.2 785.4,435.6 784.8,439.2 784.3,442.8 783.7,446.5 783.1,450.2 782.5,453.8 781.9,457.5 781.4,461.3 780.8,465.2 780.2,469.2 779.6,473.2 779.1,477.2 778.5,481.1 777.9,485.1 777.3,489.3 776.7,493.5 776.2,497.8 775.6,502.1 775,506.4 774.4,510.6 773.9,514.9 773.3,519.3 772.7,523.6 772.1,528 771.5,532.3 771,536.7 770.4,541 769.8,545.5 769.2,549.9 768.7,554.4 768.1,559 767.5,563.6 766.9,568.3 766.3,573.1 765.8,578 765.2,582.9 764.6,587.9 764,593 763.4,598.1 762.9,603.3 762.3,608.6 761.7,614 761.1,619.4 760.6,624.9 760,630.5 759.4,636.1 758.8,641.8 758.2,647.5 757.7,653.4 757.1,659.2 756.5,665.1 755.9,671.1 755.4,677.1 754.8,683.2 754.2,689.2 753.6,695.3 753,701.4 752.5,707.4M832.6,304.2 832,306.3 831.4,308.4 830.9,310.6 830.3,312.9 829.7,315.2 829.1,317.5 828.5,319.8 828,322 827.4,324.3 826.8,326.4 826.2,328.5 825.7,330.6 825.1,332.6 824.5,334.6 823.9,336.6 823.3,338.6 822.8,340.6 822.2,342.6 821.6,344.7 821,346.9 820.5,349.1 819.9,351.5 819.3,353.9 818.7,356.4 818.1,359 817.6,361.7 817,364.5 816.4,367.3 815.8,370.1 815.2,372.9 814.7,375.8 814.1,378.6 813.5,381.5 812.9,384.5 812.4,387.4 811.8,390.4 811.2,393.4 810.6,396.5 810,399.7 809.5,402.8 808.9,406.1 808.3,409.4 807.7,412.7 807.2,416.1 806.6,419.4 806,422.9 805.4,426.4 804.8,429.9 804.3,433.6 803.7,437.2 803.1,441 802.5,444.7 802,448.5 801.4,452.3 800.8,456.1 800.2,460.1 799.6,464.1 799.1,468.3 798.5,472.5 797.9,476.8 797.3,481.1 796.8,485.4 796.2,489.7 795.6,494 795,498.4 794.4,502.8 793.9,507.2 793.3,511.6 792.7,516.1 792.1,520.6 791.6,525.1 791,529.7 790.4,534.4 789.8,539.3 789.2,544.2 788.7,549.2 788.1,554.3 787.5,559.5 786.9,564.7 786.3,569.9 785.8,575.1 785.2,580.4 784.6,585.6 784,590.9 783.5,596.3 782.9,601.7 782.3,607.1 781.7,612.7 781.1,618.3 780.6,623.9 780,629.6 779.4,635.4 778.8,641.3 778.3,647.2 777.7,653.1 777.1,659.1 776.5,665.1 775.9,671.1 775.4,677.1 774.8,683.2M854.9,291.9 854.3,293.7 853.8,295.6 853.2,297.6 852.6,299.6 852,301.7 851.4,303.7 850.9,305.8 850.3,307.9 849.7,309.9 849.1,312 848.6,313.9 848,315.8 847.4,317.6 846.8,319.5 846.2,321.3 845.7,323.2 845.1,325.1 844.5,327 843.9,329 843.4,331.1 842.8,333.2 842.2,335.4 841.6,337.7 841,340.1 840.5,342.6 839.9,345.1 839.3,347.7 838.7,350.3 838.2,353 837.6,355.6 837,358.3 836.4,361.1 835.8,363.8 835.3,366.6 834.7,369.4 834.1,372.2 833.5,375 832.9,378 832.4,380.9 831.8,383.9 831.2,387 830.6,390.1 830.1,393.2 829.5,396.4 828.9,399.6 828.3,402.9 827.7,406.3 827.2,409.8 826.6,413.3 826,416.9 825.4,420.6 824.9,424.2 824.3,428 823.7,431.8 823.1,435.7 822.5,439.6 822,443.6 821.4,447.6 820.8,451.6 820.2,455.6 819.7,459.6 819.1,463.8 818.5,468 817.9,472.2 817.3,476.5 816.8,480.8 816.2,485.2 815.6,489.6 815,494 814.5,498.6 813.9,503.2 813.3,507.9 812.7,512.7 812.1,517.5 811.6,522.5 811,527.6 810.4,532.7 809.8,537.9 809.3,543.1 808.7,548.3 808.1,553.5 807.5,558.6 806.9,563.8 806.4,569 805.8,574.3 805.2,579.5 804.6,584.9 804,590.3 803.5,595.8 802.9,601.3 802.3,607 801.7,612.8 801.2,618.7 800.6,624.7 800,630.7 799.4,636.8 798.8,642.9 798.3,649.1 797.7,655.3 797.1,661.5M877.2,280.6 876.7,282.2 876.1,283.8 875.5,285.5 874.9,287.2 874.3,289 873.8,290.7 873.2,292.5 872.6,294.3 872,296.1 871.5,297.9 870.9,299.8 870.3,301.6 869.7,303.5 869.1,305.4 868.6,307.3 868,309.3 867.4,311.2 866.8,313.3 866.3,315.3 865.7,317.4 865.1,319.6 864.5,321.9 863.9,324.2 863.4,326.5 862.8,328.9 862.2,331.3 861.6,333.8 861.1,336.3 860.5,338.8 859.9,341.4 859.3,343.9 858.7,346.5 858.2,349.1 857.6,351.8 857,354.4 856.4,357.2 855.8,360 855.3,362.9 854.7,365.8 854.1,368.8 853.5,371.9 853,374.9 852.4,378 851.8,381.1 851.2,384.3 850.6,387.5 850.1,390.7 849.5,394 848.9,397.3 848.3,400.7 847.8,404.2 847.2,407.6 846.6,411.2 846,414.8 845.4,418.4 844.9,422.1 844.3,425.8 843.7,429.6 843.1,433.3 842.6,437.2 842,441.1 841.4,445.2 840.8,449.3 840.2,453.4 839.7,457.5 839.1,461.8 838.5,466 837.9,470.4 837.4,474.8 836.8,479.2 836.2,483.7 835.6,488.3 835,492.9 834.5,497.6 833.9,502.3 833.3,507.2 832.7,512.2 832.2,517.3 831.6,522.4 831,527.6 830.4,532.9 829.8,538.2 829.3,543.5 828.7,548.8 828.1,554.1 827.5,559.3 826.9,564.6 826.4,569.9 825.8,575.3 825.2,580.8 824.6,586.5 824.1,592.4 823.5,598.4 822.9,604.4 822.3,610.4 821.7,616.4 821.2,622.5 820.6,628.6 820,634.6 819.4,640.7M899.6,269.7 899,271.1 898.4,272.4 897.8,273.7 897.2,275.1 896.7,276.6 896.1,278.1 895.5,279.6 894.9,281.2 894.4,282.8 893.8,284.5 893.2,286.2 892.6,288 892,289.8 891.5,291.7 890.9,293.6 890.3,295.6 889.7,297.6 889.2,299.6 888.6,301.8 888,303.9 887.4,306.2 886.8,308.4 886.3,310.8 885.7,313.1 885.1,315.5 884.5,317.9 884,320.4 883.4,322.9 882.8,325.4 882.2,328 881.6,330.5 881.1,333.2 880.5,335.8 879.9,338.5 879.3,341.2 878.7,344 878.2,346.9 877.6,349.8 877,352.8 876.4,355.8 875.9,358.9 875.3,362 874.7,365.1 874.1,368.3 873.5,371.4 873,374.7 872.4,377.9 871.8,381.2 871.2,384.5 870.7,387.9 870.1,391.3 869.5,394.7 868.9,398.2 868.3,401.7 867.8,405.2 867.2,408.8 866.6,412.4 866,416 865.5,419.7 864.9,423.4 864.3,427.1 863.7,430.9 863.1,434.7 862.6,438.5 862,442.4 861.4,446.3 860.8,450.3 860.3,454.3 859.7,458.4 859.1,462.5 858.5,466.7 857.9,471 857.4,475.3 856.8,479.8 856.2,484.3 855.6,489 855.1,493.7 854.5,498.6 853.9,503.5 853.3,508.6 852.7,513.7 852.2,519 851.6,524.5 851,530 850.4,535.7 849.8,541.5 849.3,547.3 848.7,553.1 848.1,558.7 847.5,564.3 847,569.9 846.4,575.6 845.8,581.4 845.2,587.3 844.6,593.2 844.1,599.2 843.5,605.2 842.9,611.3 842.3,617.3 841.8,623.5M921.9,258.4 921.3,259.5 920.7,260.7 920.1,261.9 919.6,263.1 919,264.4 918.4,265.7 917.8,267.1 917.3,268.5 916.7,269.9 916.1,271.4 915.5,272.9 914.9,274.5 914.4,276.2 913.8,277.9 913.2,279.7 912.6,281.5 912.1,283.4 911.5,285.4 910.9,287.4 910.3,289.6 909.7,291.8 909.2,294.1 908.6,296.5 908,298.8 907.4,301.3 906.9,303.8 906.3,306.3 905.7,308.8 905.1,311.4 904.5,314.1 904,316.7 903.4,319.4 902.8,322.2 902.2,325 901.6,327.8 901.1,330.8 900.5,333.7 899.9,336.7 899.3,339.8 898.8,342.9 898.2,346 897.6,349.1 897,352.3 896.4,355.5 895.9,358.8 895.3,362 894.7,365.4 894.1,368.7 893.6,372.1 893,375.4 892.4,378.9 891.8,382.3 891.2,385.8 890.7,389.4 890.1,393 889.5,396.6 888.9,400.3 888.4,404.1 887.8,407.9 887.2,411.7 886.6,415.4 886,419.2 885.5,423 884.9,426.8 884.3,430.6 883.7,434.4 883.2,438.2 882.6,442.1 882,445.9 881.4,449.8 880.8,453.8 880.3,457.8 879.7,461.8 879.1,466 878.5,470.2 878,474.5 877.4,478.9 876.8,483.3 876.2,487.8 875.6,492.5 875.1,497.2 874.5,502 873.9,507 873.3,512 872.7,517.2 872.2,522.5 871.6,528.1 871,533.9 870.4,539.9 869.9,546 869.3,552 868.7,558.2 868.1,564.3 867.5,570.4 867,576.5 866.4,582.6 865.8,588.7 865.2,594.7 864.7,600.8 864.1,606.8M944.2,249 943.6,249.8 943,250.7 942.5,251.7 941.9,252.7 941.3,253.7 940.7,254.7 940.2,255.8 939.6,256.9 939,258.1 938.4,259.3 937.8,260.5 937.3,261.8 936.7,263.1 936.1,264.6 935.5,266.1 935,267.6 934.4,269.3 933.8,271 933.2,272.9 932.6,274.9 932.1,277.1 931.5,279.3 930.9,281.6 930.3,284 929.8,286.4 929.2,288.9 928.6,291.4 928,293.9 927.4,296.6 926.9,299.2 926.3,302 925.7,304.8 925.1,307.6 924.6,310.5 924,313.5 923.4,316.5 922.8,319.5 922.2,322.6 921.7,325.6 921.1,328.7 920.5,331.9 919.9,335 919.3,338.2 918.8,341.5 918.2,344.8 917.6,348.1 917,351.4 916.5,354.8 915.9,358.2 915.3,361.6 914.7,365 914.1,368.5 913.6,372 913,375.6 912.4,379.2 911.8,382.9 911.3,386.7 910.7,390.5 910.1,394.4 909.5,398.4 908.9,402.4 908.4,406.4 907.8,410.4 907.2,414.5 906.6,418.6 906.1,422.6 905.5,426.7 904.9,430.7 904.3,434.7 903.7,438.7 903.2,442.7 902.6,446.8 902,450.8 901.4,454.8 900.9,458.9 900.3,463 899.7,467.1 899.1,471.3 898.5,475.5 898,479.8 897.4,484.2 896.8,488.6 896.2,493.1 895.7,497.7 895.1,502.5 894.5,507.4 893.9,512.5 893.3,517.9 892.8,523.4 892.2,529.2 891.6,535.3 891,541.5 890.4,547.7 889.9,553.9 889.3,560 888.7,566.2 888.1,572.4 887.6,578.6 887,584.8 886.4,591M966.5,243.2 965.9,243.7 965.4,244.1 964.8,244.7 964.2,245.2 963.6,245.9 963.1,246.6 962.5,247.4 961.9,248.3 961.3,249.2 960.7,250.1 960.2,251 959.6,252 959,253.1 958.4,254.3 957.9,255.6 957.3,256.9 956.7,258.3 956.1,259.8 955.5,261.5 955,263.2 954.4,265 953.8,267 953.2,269 952.7,271.1 952.1,273.3 951.5,275.5 950.9,277.9 950.3,280.3 949.8,282.7 949.2,285.3 948.6,287.9 948,290.6 947.5,293.3 946.9,296.2 946.3,299 945.7,302 945.1,304.9 944.6,307.9 944,310.9 943.4,314 942.8,317.1 942.2,320.2 941.7,323.3 941.1,326.6 940.5,329.8 939.9,333.1 939.4,336.4 938.8,339.7 938.2,343.1 937.6,346.5 937,349.9 936.5,353.4 935.9,356.9 935.3,360.5 934.7,364.1 934.2,367.8 933.6,371.6 933,375.4 932.4,379.3 931.8,383.3 931.3,387.4 930.7,391.6 930.1,395.9 929.5,400.1 929,404.4 928.4,408.8 927.8,413.1 927.2,417.4 926.6,421.8 926.1,426 925.5,430.3 924.9,434.5 924.3,438.7 923.8,443 923.2,447.2 922.6,451.5 922,455.8 921.4,460.1 920.9,464.4 920.3,468.7 919.7,473 919.1,477.3 918.6,481.7 918,486.1 917.4,490.5 916.8,495.1 916.2,499.8 915.7,504.7 915.1,509.8 914.5,515.2 913.9,520.7 913.3,526.4 912.8,532.2 912.2,538.1 911.6,544.1 911,550.2 910.5,556.4 909.9,562.8 909.3,569.2 908.7,575.6M988.8,240.3 988.3,240.4 987.7,240.5 987.1,240.7 986.5,241 986,241.3 985.4,241.9 984.8,242.5 984.2,243.3 983.6,244.2 983.1,245.1 982.5,246 981.9,247 981.3,247.9 980.8,248.9 980.2,250 979.6,251.1 979,252.2 978.4,253.4 977.9,254.7 977.3,256 976.7,257.5 976.1,259 975.6,260.7 975,262.5 974.4,264.3 973.8,266.3 973.2,268.3 972.7,270.4 972.1,272.5 971.5,274.8 970.9,277.1 970.4,279.6 969.8,282.1 969.2,284.6 968.6,287.3 968,290 967.5,292.7 966.9,295.5 966.3,298.4 965.7,301.3 965.1,304.2 964.6,307.2 964,310.2 963.4,313.3 962.8,316.4 962.3,319.5 961.7,322.7 961.1,326 960.5,329.3 959.9,332.6 959.4,336 958.8,339.5 958.2,342.9 957.6,346.4 957.1,349.9 956.5,353.4 955.9,357 955.3,360.6 954.7,364.2 954.2,368 953.6,371.9 953,375.9 952.4,380 951.9,384.2 951.3,388.4 950.7,392.8 950.1,397.2 949.5,401.7 949,406.3 948.4,410.8 947.8,415.4 947.2,419.9 946.7,424.5 946.1,429 945.5,433.5 944.9,438 944.3,442.6 943.8,447.1 943.2,451.7 942.6,456.4 942,461.1 941.5,465.9 940.9,470.7 940.3,475.2 939.7,479.7 939.1,484.2 938.6,488.8 938,493.4 937.4,498.2 936.8,503.1 936.2,508.1 935.7,513.3 935.1,518.7 934.5,524.4 933.9,530.2 933.4,536.3 932.8,542.6 932.2,549 931.6,555.4 931,562M1011.2,241.9 1010.6,241.8 1010,241.9 1009.4,242 1008.9,242.1 1008.3,242.3 1007.7,242.7 1007.1,243.4 1006.5,244.4 1006,245.4 1005.4,246.4 1004.8,247.4 1004.2,248.3 1003.7,249.1 1003.1,249.9 1002.5,250.7 1001.9,251.5 1001.3,252.3 1000.8,253.2 1000.2,254.1 999.6,255 999,256 998.5,257.1 997.9,258.4 997.3,259.9 996.7,261.6 996.1,263.4 995.6,265.2 995,267.1 994.4,269.1 993.8,271.1 993.3,273.2 992.7,275.4 992.1,277.6 991.5,280 990.9,282.4 990.4,284.8 989.8,287.3 989.2,289.8 988.6,292.4 988,295 987.5,297.7 986.9,300.4 986.3,303.1 985.7,305.8 985.2,308.6 984.6,311.5 984,314.4 983.4,317.4 982.8,320.5 982.3,323.7 981.7,326.9 981.1,330.2 980.5,333.5 980,336.7 979.4,340 978.8,343.3 978.2,346.7 977.6,350 977.1,353.4 976.5,356.9 975.9,360.4 975.3,364 974.8,367.7 974.2,371.4 973.6,375.3 973,379.2 972.4,383.4 971.9,387.7 971.3,392.2 970.7,396.7 970.1,401.3 969.6,405.9 969,410.5 968.4,415.1 967.8,419.6 967.2,424.1 966.7,428.6 966.1,433 965.5,437.5 964.9,442.1 964.4,446.9 963.8,451.9 963.2,456.9 962.6,462 962,467.2 961.5,472.5 960.9,477.7 960.3,483 959.7,488.2 959.1,493.4 958.6,498.6 958,503.7 957.4,508.9 956.8,514.2 956.3,519.7 955.7,525.4 955.1,531.4 954.5,537.7 953.9,544.1 953.4,550.7M1033.5,250.9 1032.9,250.9 1032.3,250.9 1031.8,251 1031.2,251.2 1030.6,251.6 1030,252.1 1029.4,252.7 1028.9,253.4 1028.3,254.2 1027.7,255 1027.1,255.7 1026.6,256.3 1026,256.9 1025.4,257.5 1024.8,258.1 1024.2,258.7 1023.7,259.4 1023.1,260.1 1022.5,260.8 1021.9,261.6 1021.4,262.6 1020.8,263.6 1020.2,264.7 1019.6,265.9 1019,267.2 1018.5,268.6 1017.9,270 1017.3,271.6 1016.7,273.2 1016.2,275 1015.6,276.9 1015,278.8 1014.4,280.9 1013.8,283 1013.3,285.2 1012.7,287.4 1012.1,289.6 1011.5,291.9 1011,294.3 1010.4,296.6 1009.8,299.1 1009.2,301.5 1008.6,304 1008.1,306.5 1007.5,309.1 1006.9,311.7 1006.3,314.3 1005.7,317 1005.2,319.7 1004.6,322.4 1004,325.2 1003.4,327.9 1002.9,330.7 1002.3,333.6 1001.7,336.4 1001.1,339.4 1000.5,342.3 1000,345.4 999.4,348.4 998.8,351.6 998.2,354.8 997.7,358.2 997.1,361.6 996.5,365.1 995.9,368.8 995.3,372.6 994.8,376.5 994.2,380.5 993.6,384.6 993,388.9 992.5,393.2 991.9,397.6 991.3,402 990.7,406.3 990.1,410.6 989.6,414.9 989,419.2 988.4,423.6 987.8,428 987.3,432.5 986.7,437.1 986.1,441.8 985.5,446.6 984.9,451.7 984.4,457.2 983.8,462.8 983.2,468.5 982.6,474.2 982.1,479.8 981.5,485.4 980.9,490.9 980.3,496.2 979.7,501.4 979.2,506.6 978.6,511.9 978,517.3 977.4,522.9 976.8,528.6 976.3,534.7 975.7,540.9M1055.8,261.7 1055.2,262.1 1054.7,262.6 1054.1,263.1 1053.5,263.6 1052.9,264.2 1052.3,264.8 1051.8,265.3 1051.2,265.9 1050.6,266.4 1050,267 1049.5,267.6 1048.9,268.2 1048.3,268.9 1047.7,269.5 1047.1,270.2 1046.6,270.8 1046,271.5 1045.4,272.3 1044.8,273.1 1044.3,274 1043.7,275 1043.1,276 1042.5,277.1 1041.9,278.2 1041.4,279.3 1040.8,280.6 1040.2,281.8 1039.6,283.2 1039.1,284.6 1038.5,286.1 1037.9,287.6 1037.3,289.2 1036.7,290.9 1036.2,292.6 1035.6,294.4 1035,296.3 1034.4,298.2 1033.9,300.2 1033.3,302.2 1032.7,304.2 1032.1,306.3 1031.5,308.4 1031,310.6 1030.4,312.8 1029.8,315 1029.2,317.2 1028.6,319.4 1028.1,321.7 1027.5,323.9 1026.9,326.2 1026.3,328.5 1025.8,330.8 1025.2,333.1 1024.6,335.5 1024,337.9 1023.4,340.4 1022.9,343 1022.3,345.6 1021.7,348.3 1021.1,351.1 1020.6,354 1020,357 1019.4,360.2 1018.8,363.4 1018.2,366.8 1017.7,370.3 1017.1,373.9 1016.5,377.6 1015.9,381.5 1015.4,385.4 1014.8,389.5 1014.2,393.6 1013.6,397.8 1013,402 1012.5,406.2 1011.9,410.5 1011.3,414.7 1010.7,419 1010.2,423.4 1009.6,427.8 1009,432.3 1008.4,437 1007.8,441.8 1007.3,446.8 1006.7,451.8 1006.1,456.9 1005.5,462.1 1005,467.3 1004.4,472.6 1003.8,477.9 1003.2,483.3 1002.6,488.8 1002.1,494.2 1001.5,499.7 1000.9,505.2 1000.3,510.8 999.7,516.5 999.2,522.4 998.6,528.3 998,534.3M1078.1,276.9 1077.6,277.3 1077,277.8 1076.4,278.4 1075.8,279 1075.2,279.6 1074.7,280.2 1074.1,280.8 1073.5,281.3 1072.9,281.9 1072.4,282.4 1071.8,283 1071.2,283.7 1070.6,284.4 1070,285.2 1069.5,286 1068.9,286.9 1068.3,287.7 1067.7,288.6 1067.2,289.5 1066.6,290.5 1066,291.5 1065.4,292.5 1064.8,293.5 1064.3,294.6 1063.7,295.6 1063.1,296.7 1062.5,297.9 1062,299 1061.4,300.2 1060.8,301.5 1060.2,302.7 1059.6,304 1059.1,305.3 1058.5,306.6 1057.9,308 1057.3,309.4 1056.8,310.9 1056.2,312.5 1055.6,314.1 1055,315.7 1054.4,317.4 1053.9,319.2 1053.3,320.9 1052.7,322.7 1052.1,324.5 1051.5,326.3 1051,328.1 1050.4,329.9 1049.8,331.7 1049.2,333.6 1048.7,335.4 1048.1,337.3 1047.5,339.1 1046.9,341.1 1046.3,343 1045.8,345.1 1045.2,347.2 1044.6,349.4 1044,351.7 1043.5,354.1 1042.9,356.6 1042.3,359.2 1041.7,361.9 1041.1,364.8 1040.6,367.8 1040,370.9 1039.4,374.2 1038.8,377.6 1038.3,381.1 1037.7,384.7 1037.1,388.4 1036.5,392.2 1035.9,396.1 1035.4,400.1 1034.8,404.1 1034.2,408.2 1033.6,412.4 1033.1,416.6 1032.5,420.8 1031.9,425.1 1031.3,429.4 1030.7,433.9 1030.2,438.4 1029.6,443 1029,447.7 1028.4,452.5 1027.9,457.4 1027.3,462.4 1026.7,467.5 1026.1,472.7 1025.5,478 1025,483.4 1024.4,488.8 1023.8,494.3 1023.2,499.9 1022.6,505.5 1022.1,511.2 1021.5,517.1 1020.9,523 1020.3,529M1100.5,294.5 1099.9,295.1 1099.3,295.8 1098.7,296.5 1098.1,297.2 1097.6,297.9 1097,298.7 1096.4,299.4 1095.8,300.1 1095.3,300.8 1094.7,301.4 1094.1,302.1 1093.5,302.9 1092.9,303.6 1092.4,304.4 1091.8,305.2 1091.2,306.1 1090.6,306.9 1090.1,307.8 1089.5,308.6 1088.9,309.5 1088.3,310.4 1087.7,311.3 1087.2,312.2 1086.6,313.1 1086,314 1085.4,314.9 1084.9,315.8 1084.3,316.8 1083.7,317.7 1083.1,318.7 1082.5,319.7 1082,320.7 1081.4,321.8 1080.8,322.8 1080.2,323.9 1079.7,325.1 1079.1,326.3 1078.5,327.6 1077.9,328.9 1077.3,330.2 1076.8,331.6 1076.2,333 1075.6,334.4 1075,335.8 1074.4,337.2 1073.9,338.6 1073.3,340 1072.7,341.4 1072.1,342.8 1071.6,344.1 1071,345.5 1070.4,346.9 1069.8,348.2 1069.2,349.7 1068.7,351.1 1068.1,352.7 1067.5,354.3 1066.9,356.1 1066.4,357.9 1065.8,359.9 1065.2,362 1064.6,364.2 1064,366.5 1063.5,369 1062.9,371.6 1062.3,374.4 1061.7,377.2 1061.2,380.2 1060.6,383.4 1060,386.6 1059.4,390 1058.8,393.4 1058.3,397 1057.7,400.7 1057.1,404.5 1056.5,408.3 1056,412.3 1055.4,416.3 1054.8,420.4 1054.2,424.6 1053.6,428.9 1053.1,433.3 1052.5,437.7 1051.9,442.3 1051.3,446.9 1050.8,451.6 1050.2,456.4 1049.6,461.3 1049,466.3 1048.4,471.4 1047.9,476.5 1047.3,481.8 1046.7,487.1 1046.1,492.6 1045.5,498.1 1045,503.7 1044.4,509.5 1043.8,515.4 1043.2,521.4 1042.7,527.5M1122.8,314.4 1122.2,315.1 1121.6,315.8 1121,316.5 1120.5,317.2 1119.9,318 1119.3,318.7 1118.7,319.5 1118.2,320.2 1117.6,320.9 1117,321.7 1116.4,322.4 1115.8,323.2 1115.3,323.9 1114.7,324.7 1114.1,325.5 1113.5,326.3 1113,327.1 1112.4,327.9 1111.8,328.8 1111.2,329.6 1110.6,330.4 1110.1,331.2 1109.5,332 1108.9,332.7 1108.3,333.5 1107.8,334.3 1107.2,335.1 1106.6,335.9 1106,336.7 1105.4,337.5 1104.9,338.2 1104.3,339 1103.7,339.8 1103.1,340.7 1102.6,341.6 1102,342.6 1101.4,343.7 1100.8,344.7 1100.2,345.8 1099.7,346.9 1099.1,347.9 1098.5,348.9 1097.9,349.9 1097.4,350.9 1096.8,351.8 1096.2,352.8 1095.6,353.7 1095,354.7 1094.5,355.7 1093.9,356.7 1093.3,357.6 1092.7,358.6 1092.1,359.6 1091.6,360.6 1091,361.7 1090.4,362.9 1089.8,364.2 1089.3,365.6 1088.7,367.1 1088.1,368.7 1087.5,370.5 1086.9,372.4 1086.4,374.5 1085.8,376.7 1085.2,379 1084.6,381.4 1084.1,384 1083.5,386.7 1082.9,389.5 1082.3,392.5 1081.7,395.5 1081.2,398.7 1080.6,402 1080,405.4 1079.4,408.9 1078.9,412.6 1078.3,416.3 1077.7,420.2 1077.1,424.1 1076.5,428.2 1076,432.4 1075.4,436.7 1074.8,441.1 1074.2,445.6 1073.7,450.2 1073.1,454.9 1072.5,459.7 1071.9,464.6 1071.3,469.5 1070.8,474.5 1070.2,479.5 1069.6,484.6 1069,489.9 1068.5,495.2 1067.9,500.7 1067.3,506.3 1066.7,512 1066.1,518 1065.6,524 1065,530.2M1145.1,335 1144.5,335.7 1143.9,336.4 1143.4,337.1 1142.8,337.7 1142.2,338.4 1141.6,339 1141.1,339.7 1140.5,340.3 1139.9,341 1139.3,341.7 1138.7,342.3 1138.2,343 1137.6,343.7 1137,344.4 1136.4,345.2 1135.9,345.9 1135.3,346.6 1134.7,347.4 1134.1,348.1 1133.5,348.9 1133,349.6 1132.4,350.4 1131.8,351.2 1131.2,351.9 1130.7,352.7 1130.1,353.5 1129.5,354.3 1128.9,355 1128.3,355.8 1127.8,356.5 1127.2,357.2 1126.6,358 1126,358.7 1125.5,359.5 1124.9,360.2 1124.3,361 1123.7,361.7 1123.1,362.4 1122.6,363.1 1122,363.8 1121.4,364.4 1120.8,365 1120.3,365.6 1119.7,366.2 1119.1,366.8 1118.5,367.4 1117.9,368.1 1117.4,368.8 1116.8,369.5 1116.2,370.3 1115.6,371.2 1115,372.1 1114.5,373 1113.9,374 1113.3,375.1 1112.7,376.3 1112.2,377.5 1111.6,378.9 1111,380.4 1110.4,382 1109.8,383.7 1109.3,385.5 1108.7,387.4 1108.1,389.5 1107.5,391.6 1107,393.9 1106.4,396.2 1105.8,398.7 1105.2,401.3 1104.6,404 1104.1,406.9 1103.5,409.8 1102.9,412.9 1102.3,416.1 1101.8,419.4 1101.2,422.8 1100.6,426.3 1100,430 1099.4,433.7 1098.9,437.5 1098.3,441.5 1097.7,445.6 1097.1,449.8 1096.6,454 1096,458.4 1095.4,463 1094.8,467.6 1094.2,472.4 1093.7,477.2 1093.1,482.1 1092.5,487.1 1091.9,492.2 1091.4,497.3 1090.8,502.5 1090.2,507.8 1089.6,513.2 1089,518.7 1088.5,524.3 1087.9,530.1 1087.3,536.1M1167.4,355.7 1166.8,356.3 1166.3,356.8 1165.7,357.3 1165.1,357.7 1164.5,358.1 1164,358.6 1163.4,359.1 1162.8,359.6 1162.2,360.1 1161.6,360.7 1161.1,361.3 1160.5,361.9 1159.9,362.5 1159.3,363.1 1158.8,363.7 1158.2,364.3 1157.6,365 1157,365.6 1156.4,366.2 1155.9,366.8 1155.3,367.5 1154.7,368.1 1154.1,368.8 1153.6,369.4 1153,370.1 1152.4,370.8 1151.8,371.4 1151.2,372.1 1150.7,372.8 1150.1,373.4 1149.5,374.1 1148.9,374.6 1148.4,375.2 1147.8,375.8 1147.2,376.3 1146.6,376.9 1146,377.5 1145.5,378.1 1144.9,378.7 1144.3,379.2 1143.7,379.7 1143.2,380.1 1142.6,380.6 1142,381 1141.4,381.5 1140.8,382.1 1140.3,382.8 1139.7,383.6 1139.1,384.5 1138.5,385.4 1137.9,386.5 1137.4,387.7 1136.8,388.9 1136.2,390.2 1135.6,391.6 1135.1,393.1 1134.5,394.7 1133.9,396.4 1133.3,398.2 1132.7,400 1132.2,401.9 1131.6,403.9 1131,405.9 1130.4,408 1129.9,410.1 1129.3,412.3 1128.7,414.5 1128.1,416.9 1127.5,419.3 1127,421.9 1126.4,424.6 1125.8,427.4 1125.2,430.4 1124.7,433.4 1124.1,436.5 1123.5,439.8 1122.9,443.1 1122.3,446.6 1121.8,450.2 1121.2,453.9 1120.6,457.8 1120,461.7 1119.5,465.8 1118.9,470 1118.3,474.2 1117.7,478.6 1117.1,483 1116.6,487.5 1116,492 1115.4,496.6 1114.8,501.2 1114.3,505.9 1113.7,510.8 1113.1,515.7 1112.5,520.7 1111.9,525.8 1111.4,531 1110.8,536.3 1110.2,541.8 1109.6,547.4M1189.8,373 1189.2,373.6 1188.6,374.1 1188,374.6 1187.4,375 1186.9,375.4 1186.3,375.8 1185.7,376.3 1185.1,376.8 1184.5,377.2 1184,377.7 1183.4,378.3 1182.8,378.8 1182.2,379.3 1181.7,379.9 1181.1,380.4 1180.5,381 1179.9,381.5 1179.3,382 1178.8,382.5 1178.2,383 1177.6,383.4 1177,383.9 1176.5,384.3 1175.9,384.8 1175.3,385.3 1174.7,385.8 1174.1,386.2 1173.6,386.7 1173,387.1 1172.4,387.5 1171.8,387.8 1171.3,388 1170.7,388.2 1170.1,388.6 1169.5,389.3 1168.9,390.1 1168.4,391 1167.8,391.8 1167.2,392.7 1166.6,393.5 1166.1,394.3 1165.5,395 1164.9,395.7 1164.3,396.4 1163.7,397.1 1163.2,397.8 1162.6,398.8 1162,399.9 1161.4,401.1 1160.8,402.4 1160.3,403.8 1159.7,405.4 1159.1,407 1158.5,408.7 1158,410.4 1157.4,412.2 1156.8,414.1 1156.2,416.1 1155.6,418.2 1155.1,420.3 1154.5,422.4 1153.9,424.6 1153.3,426.8 1152.8,429.1 1152.2,431.4 1151.6,433.8 1151,436.2 1150.4,438.8 1149.9,441.4 1149.3,444 1148.7,446.8 1148.1,449.6 1147.6,452.5 1147,455.6 1146.4,458.7 1145.8,461.9 1145.2,465.3 1144.7,468.8 1144.1,472.4 1143.5,476.1 1142.9,479.9 1142.4,483.8 1141.8,487.7 1141.2,491.8 1140.6,495.9 1140,500 1139.5,504.3 1138.9,508.7 1138.3,513.2 1137.7,517.8 1137.2,522.4 1136.6,527.1 1136,531.9 1135.4,536.8 1134.8,541.9 1134.3,547.2 1133.7,552.7 1133.1,558.6 1132.5,564.6 1131.9,570.6M1212.1,387.3 1211.5,388 1210.9,388.7 1210.3,389.4 1209.8,390 1209.2,390.5 1208.6,391 1208,391.5 1207.4,391.9 1206.9,392.4 1206.3,392.9 1205.7,393.4 1205.1,393.8 1204.6,394.3 1204,394.8 1203.4,395.3 1202.8,395.8 1202.2,396.3 1201.7,396.7 1201.1,397.2 1200.5,397.6 1199.9,398 1199.4,398.4 1198.8,398.8 1198.2,399.2 1197.6,399.6 1197,400 1196.5,400.4 1195.9,400.7 1195.3,401.1 1194.7,401.5 1194.2,401.9 1193.6,402.4 1193,403 1192.4,403.7 1191.8,404.6 1191.3,405.6 1190.7,406.7 1190.1,407.9 1189.5,409 1189,410.2 1188.4,411.4 1187.8,412.5 1187.2,413.6 1186.6,414.7 1186.1,415.8 1185.5,416.9 1184.9,418.1 1184.3,419.3 1183.8,420.6 1183.2,422 1182.6,423.5 1182,425 1181.4,426.7 1180.9,428.4 1180.3,430.2 1179.7,432.1 1179.1,434.1 1178.5,436.1 1178,438.3 1177.4,440.5 1176.8,442.8 1176.2,445.1 1175.7,447.5 1175.1,449.9 1174.5,452.3 1173.9,454.7 1173.3,457.2 1172.8,459.8 1172.2,462.5 1171.6,465.3 1171,468.2 1170.5,471.2 1169.9,474.3 1169.3,477.5 1168.7,480.7 1168.1,484.2 1167.6,487.7 1167,491.4 1166.4,495.2 1165.8,499 1165.3,502.8 1164.7,506.8 1164.1,510.8 1163.5,515 1162.9,519.2 1162.4,523.4 1161.8,527.8 1161.2,532.2 1160.6,536.7 1160.1,541.3 1159.5,545.9 1158.9,550.5 1158.3,555.1 1157.7,559.9 1157.2,564.8 1156.6,569.8 1156,574.9 1155.4,580.2 1154.9,585.5 1154.3,590.9M1234.4,402.5 1233.8,403.2 1233.2,403.7 1232.7,404.2 1232.1,404.6 1231.5,405 1230.9,405.3 1230.3,405.7 1229.8,406 1229.2,406.4 1228.6,406.9 1228,407.4 1227.5,407.9 1226.9,408.4 1226.3,408.9 1225.7,409.4 1225.1,409.9 1224.6,410.3 1224,410.8 1223.4,411.3 1222.8,411.8 1222.3,412.3 1221.7,412.8 1221.1,413.3 1220.5,413.8 1219.9,414.3 1219.4,414.8 1218.8,415.4 1218.2,415.9 1217.6,416.5 1217.1,417.2 1216.5,417.9 1215.9,418.7 1215.3,419.6 1214.7,420.5 1214.2,421.6 1213.6,422.7 1213,424 1212.4,425.4 1211.9,426.7 1211.3,428 1210.7,429.2 1210.1,430.3 1209.5,431.5 1209,432.6 1208.4,433.8 1207.8,435 1207.2,436.2 1206.7,437.4 1206.1,438.7 1205.5,440.1 1204.9,441.6 1204.3,443.1 1203.8,444.7 1203.2,446.3 1202.6,447.9 1202,449.5 1201.4,451.2 1200.9,453 1200.3,454.9 1199.7,457.2 1199.1,459.6 1198.6,462 1198,464.4 1197.4,466.8 1196.8,469.1 1196.2,471.4 1195.7,473.5 1195.1,475.7 1194.5,478.4 1193.9,481.4 1193.4,484.6 1192.8,487.7 1192.2,490.8 1191.6,494 1191,497.1 1190.5,500.5 1189.9,503.9 1189.3,507.4 1188.7,511.1 1188.2,514.9 1187.6,519 1187,523.8 1186.4,528.8 1185.8,533.5 1185.3,537.5 1184.7,541.6 1184.1,545.7 1183.5,549.7 1183,554.2 1182.4,559.1 1181.8,564.1 1181.2,569.2 1180.6,574.5 1180.1,579.7 1179.5,585 1178.9,590.5 1178.3,596.4 1177.8,602.4 1177.2,608.3 1176.6,613.9"/>
<g shape-rendering="crispEdges" fill="none" stroke="#c86000" stroke-linejoin="bevel">
<path stroke-width="0.99" stroke-dasharray="10 2" d="M1208.2,384.8 1210.4,387.3 1211.3,388.3 1212.6,389.9 1214.8,392.4 1217.2,394.9 1219.8,397.4 1222.6,400 1225.4,402.5 1228.2,405.1 1229.5,406.2M767,367.5 767.9,365.1 768.7,362.8 769.6,360.4M1171,358.5 1172.8,361 1174.8,363.5 1176.9,366 1179,368.5 1181.2,371 1183.3,373.5 1185.3,376 1185.6,376.3 1187.7,378.5 1190.2,381.1 1192.6,383.6 1195,386.1 1197.4,388.6 1199.8,391.1 1202.3,393.7 1203.7,395.1 1204.8,396.2 1207.5,398.7 1210.2,401.3 1212.9,403.8 1215.6,406.4 1218.3,408.9 1220.9,411.4 1222,412.5M1142.5,332.6 1143.9,335.1 1144.3,335.9 1145.2,337.6 1146.6,340 1148.1,342.5 1149.7,345 1151.3,347.4 1152.9,349.9 1154.5,352.4 1156.1,354.9 1157.8,357.4 1159.4,359.8 1160.6,361.7 1161.1,362.3 1163,364.8 1165,367.3 1166.9,369.8 1168.9,372.3 1170.9,374.8 1173,377.3 1175.1,379.8 1177.3,382.3 1178,383.1 1179.8,384.9 1182.5,387.4 1185.1,389.9 1187.7,392.5 1190.5,395 1193.2,397.6 1196.1,400.1 1196.4,400.4 1198.7,402.6 1201.2,405.2 1203.6,407.7 1205.8,410.2 1207.7,412.7 1209.5,415.2 1211,417.7M1114.3,306.8 1115.7,309.3 1117.1,311.7 1118.5,314.2 1119.8,316.6 1120.3,317.5 1121.1,319.1 1122.4,321.6 1123.8,324 1125.1,326.5 1126.5,329 1127.9,331.4 1129.3,333.9 1130.7,336.4 1132.1,338.8 1133.5,341.3 1134.8,343.8 1136,345.8 1136.3,346.2 1137.8,348.7 1139.4,351.2 1141,353.7 1142.6,356.1 1144.2,358.6 1145.9,361.1 1147.6,363.6 1149.3,366.1 1151,368.6 1152.5,370.7 1152.8,371 1155,373.6 1157.3,376.1 1159.7,378.6 1162.3,381.1 1165.2,383.7 1168.3,386.2 1170.8,388.1 1171.6,388.8 1174.1,391.3 1176.2,393.8 1177.9,396.3M1083.1,280.8 1085,283.3 1086.9,285.8 1088.6,288.2 1090.2,290.7 1091.8,293.2 1093.4,295.7 1094.9,298.2 1096,299.9 1096.5,300.6 1097.8,303.1 1099.2,305.6 1100.6,308 1101.9,310.5 1103.2,313 1104.5,315.4 1105.7,317.9 1107,320.3 1108.2,322.8 1109.4,325.2 1110.6,327.7 1111.4,329.3 1111.9,330.2 1113.2,332.6 1114.6,335.1 1116,337.6 1117.4,340 1118.7,342.5 1120.1,345 1121.5,347.4 1122.9,349.9 1124.4,352.4 1125.8,354.8 1127.2,357.2 1127.3,357.3 1129,359.8 1130.8,362.3 1132.7,364.8 1134.6,367.3 1136.6,369.8 1138.6,372.3 1140.7,374.8 1142.8,377.3 1144.5,379.1 1145.2,379.8 1147.7,382.3 1150.2,384.9 1152.6,387.4 1154.9,389.9 1157.1,392.4 1159,394.9 1160.6,397.4M891.1,277.3 893.3,275 895.6,272.7 898,270.5M1040.1,254.1 1044.6,256.7 1048.5,259.4 1051.9,261.9 1053.7,263.4 1054.7,264.5 1057,267 1059.2,269.5 1061.5,272 1063.7,274.5 1065.9,277 1068.2,279.6 1070.4,282.1 1071.5,283.4 1072.2,284.6 1073.7,287 1075,289.5 1076.4,292 1077.7,294.4 1079,296.9 1080.3,299.3 1081.5,301.8M1093.9,326.4 1095.2,328.8 1096.5,331.3 1097.9,333.8 1099.3,336.2 1100.7,338.7M1109.9,355.9 1111.7,358.4 1113.6,360.9 1115.6,363.4 1117.8,365.9 1118.8,367.1 1120.1,368.5 1122.3,371 1124.5,373.5 1126.4,376 1128.2,378.5M915.9,272 916.6,271.1 918.7,268.9 920.9,266.6 923.3,264.3 925.8,262.1 928.5,259.9 931.3,257.6 934.3,255.4 937.5,253.2 940.9,251 944.1,249.1 944.9,248.8M981.3,243.3 985.1,242.1 996.4,242.5 1007.6,242.9 1010.7,244.9 1014.3,247.5 1017.8,250.1 1021.7,252.7 1026.2,255.3 1027,255.8 1029.5,257.9 1032.6,260.5 1035.7,263 1038.7,265.6 1041.6,268.1 1044.4,270.7 1045.7,271.9 1046.6,273.2 1048.3,275.7 1049.9,278.2M947.3,260.5 949.8,258.3 952.6,256 955.6,253.8 958.8,251.6 960.4,250.6 963.4,249.5 969.2,247.4 975.1,245.3 981.3,243.3"/>
<path stroke-width="0.99" d="M889.1,279.5 891.1,277.3M1087.2,354.3 1089.3,356.8 1091.6,359.3 1092,359.8M943,265.1 945,262.8 947.3,260.5"/>
<path stroke-width="1.0" d="M880.6,291 882.1,288.7 883.7,286.4 885.4,284.1 887.2,281.8 889.1,279.5M1128.2,378.5 1129.9,380.9M909.9,280.3 911.4,278 913,275.7 914.7,273.4 915.9,272M1081.8,346.8 1083.4,349.3 1085.2,351.8 1087.2,354.3M1092,359.8 1093.6,361.8 1095.3,364.3M939.6,269.6 941.2,267.3 943,265.1M997.7,258.8 1000.1,260.7"/>
<path stroke-width="1.1" d="M1211,417.7 1212.3,420.1 1213.4,422.6M817.7,317 818.8,314.6M1177.9,396.3 1179.5,398.8 1180.9,401.3 1182.3,403.7 1183.6,406.2 1184.8,408.7 1186,411.1 1187.2,413.6 1187.2,413.6 1188.3,416 1189.4,418.5 1190.4,420.9M834.2,334.2 835.3,331.9 836.4,329.6 837.6,327.2 838.8,324.9 840,322.6 841.2,320.3 842.4,317.9 843.5,315.6 844.5,313.3M848.3,303.9 849.3,301.6 850.3,299.3 851.5,296.9 852.7,294.6 854.1,292.3M1160.6,397.4 1161.9,399.8 1162,400M868.1,314.2 869.1,311.9 870.2,309.6 871.3,307.2 872.5,304.9 873.7,302.6 875,300.3 876.3,297.9 877.7,295.6 879.1,293.3 880.6,291M1081.5,301.8 1082.7,304.3 1084,306.7 1085.3,309.2 1086.5,311.6 1087,312.5 1087.8,314.1 1088.9,316.6 1090.2,319 1091.4,321.5 1092.6,323.9 1093.9,326.4M1100.7,338.7 1102,341.2 1102.4,341.9 1103.2,343.6 1104.4,346.1 1105.6,348.5 1107,351 1108.4,353.5 1109.9,355.9M1129.9,380.9 1131.3,383.4 1132.5,385.9 1133.6,388.3M904.9,289.6 906,287.3 907.2,284.9 908.5,282.6 909.9,280.3M1049.9,278.2 1051.3,280.6 1052.7,283.1 1054.1,285.6 1055.3,288 1056.6,290.5 1057.9,292.9 1059.1,295.4 1060.3,297.9 1061.4,300.2M1063.4,305.2 1064.5,307.6 1065.6,310.1 1066.6,312.5 1067.7,315M1073.7,329.7 1074.8,332.1 1075.7,334.1M1076.8,337 1077.9,339.4 1079.1,341.9 1080.4,344.4 1081.8,346.8M1095.3,364.3 1096.9,366.8 1098.3,369.3 1099.6,371.7M937.2,274.3 938.3,272 939.6,269.6"/>
<path stroke-width="1.2" d="M759.8,429.2 759.8,426.8 759.8,424.4 759.9,422 760,419.6 760.1,417.3 760.2,414.9 760.4,412.5 760.6,410.1 760.8,407.7 761,405.4 761.2,403 761.5,400.6 761.7,398.2 762,395.9 762.2,393.5 762.4,391.1 762.7,388.7 763.1,386.4 763.5,384 763.8,381.6 764.2,379.3 764.6,376.9 765.1,374.5 765.6,372.2 766.3,369.8 767,367.5M780,403.6 780.1,401.3 780.2,398.9 780.3,396.5 780.4,394.1 780.6,391.7 780.9,389.4 781.1,387 781.4,384.6 781.7,382.2 782.1,379.9 782.5,377.5 782.9,375.1 783.4,372.8 783.8,370.4 784.3,368 784.7,365.7 785.2,363.3 785.7,361 786.3,358.6 786.7,356.2 787.2,353.9 787.7,351.5 788.2,349.1 788.8,346.8 789.4,344.4 790.1,342.1 790.9,339.7 791.9,337.4M1213.4,422.6 1213.5,422.9M802.6,373.5 802.8,371.1 803.1,368.7 803.4,366.3 803.8,364 804.3,361.6 804.9,359.3 805.6,356.9 806.3,354.6 807,352.2 807.8,349.9 808.6,347.5 809.4,345.2 810.1,342.8 810.9,340.5 811.6,338.1 812.3,335.8 812.9,333.4 813.6,331.1 814.1,328.7 814.7,326.4 815.4,324 816.1,321.6 816.8,319.3 817.7,317M1190.4,420.9 1191.4,423.4 1192.3,425.8 1193.1,428.2 1193.9,430.7 1194.5,433.1 1195,435.5 1195.4,437.9M830.3,345.9 830.8,343.6 831.5,341.2 832.3,338.9 833.2,336.6 834.2,334.2M844.5,313.3 845.4,311 846.4,308.6 847.3,306.3 848.3,303.9M1162,400 1162.7,402.3 1163.4,404.7 1164,407.1 1164.4,409.5 1164.7,411.9M866.3,318.9 867.1,316.6 868.1,314.2M1133.6,388.3 1134.4,390.8 1135.1,393.1 1135.1,393.2 1135.5,395.6M902.3,296.6 903,294.3 903.9,291.9 904.9,289.6M1061.4,300.2 1061.5,300.3 1062.4,302.8 1063.4,305.2M1067.7,315 1068.7,317.4 1069.8,319.9 1070.8,322.3 1071.7,324.8 1072.7,327.2 1073.7,329.7M1075.7,334.1 1075.9,334.6 1076.8,337M1099.6,371.7 1100.6,374.2"/>
<path stroke-width="1.3" d="M825.6,576.9 824.8,576.1 822.3,573.6 819.8,571.1 817.3,568.6 814.9,566 812.5,563.5 810.1,561 807.7,558.5 807.6,558.3M838.4,540.7 835.6,538.1 832.9,535.6 830.4,533.2 830.2,533.1 827.9,530.5 825.5,528 823.2,525.5 821,523M871.6,523 868.8,520.5 866,517.9 863.2,515.4 860.3,512.8M854.4,507.7 853.5,506.9 851.9,505.2 849.5,502.7 847.3,500.2 845,497.7M1180.9,489.7 1178.8,491.9 1176.5,494.2 1174.1,496.5M1165.1,503.6 1163.4,505.4 1161.1,507.7 1158.7,509.9 1156.3,512.2 1153.8,514.4 1151.2,516.7M896.3,492.8 893.7,490.4 891,487.9 888.2,485.3 885.4,482.8 882.5,480.2M879.6,477.7 877.7,476.1 876.9,475.2 874.7,472.6 872.4,470.1 870.1,467.6 867.9,465.1 865.6,462.6 863.4,460.1 861.1,457.6 860,456.3M1143.9,473.7 1142.6,475.2 1140.5,477.5 1138.3,479.8 1135.9,482 1133.5,484.3M942.9,473.7 940.7,471.7M929.9,463.4 927.1,460.8 924.5,458.3 922.1,455.8 922,455.7 919.2,453.2 916.5,450.7 914,448.2 911.5,445.6 909.2,443.1 907,440.6M904,437.1 902.6,435.6 900.2,433.1 898,430.6M1122.3,442.6 1120.1,444.9 1117.7,447.2M965.2,439.9 963.8,438.6 961.2,436.1 958.7,433.5 956.2,431 953.6,428.5 951,426 948.3,423.4 947,422.1 945.8,420.9 943.3,418.4 941,415.8 938.8,413.3M1095.5,402.5 1093.4,404.8 1090.9,407.1M971.7,389.4 970.7,388.4 968.4,385.9 966.2,383.4M1012.5,321.1 1010,323.3M1003.7,326.7 1002.3,325.3M980.9,269.2 983.3,266.9"/>
<path stroke-width="1.4" d="M828,578.7 825.6,576.9M807.6,558.3 805.5,556 803.3,553.5 801.1,550.9 798.9,548.4 796.8,545.9 794.6,543.4 792.6,540.9 790.7,538.4M861,558.7 857.5,556.1 854.3,553.5 851.2,550.9 849.1,549.3M847.8,548.4 844.4,545.8 841.3,543.2 838.4,540.7M821,523 818.8,520.5 816.6,518 814.5,515.5 812.6,513.3 812.4,513M1185.1,538.9 1183.2,540.4 1180.3,542.6 1177.3,544.8M1158.2,556.2 1155.9,557.9M872.1,523.5 871.6,523M860.3,512.8 857.4,510.3 854.4,507.7M845,497.7 842.8,495.2 840.6,492.6 838.5,490.1 836.4,487.6 835.8,486.8M1184.5,485.1 1182.7,487.4 1180.9,489.7M1174.1,496.5 1171.4,498.7 1168.6,500.9 1165.7,503.2 1165.1,503.6M1151.2,516.7 1148.6,518.9 1145.9,521.2 1143.1,523.4 1140.2,525.6 1137.3,527.9 1136.4,528.5M910.1,503.3 906.6,500.7 903.2,498.1 899.8,495.5 896.5,493 896.3,492.8M882.5,480.2 879.6,477.7M1148.3,468.4 1146.5,470.7 1144.6,472.9 1143.9,473.7M1133.5,484.3 1131,486.5 1128.3,488.8 1125.5,491 1122.6,493.2 1119.6,495.4M949.4,478.8 945.9,476.2 942.9,473.7M940.7,471.7 940,471.1M936.4,468.5 933,465.9 929.9,463.4M907,440.6 904.8,438.1 904,437.1M898,430.6 895.8,428 893.7,425.5 891.7,423 889.8,420.5M886.6,415.9 886.3,415.6 884.5,413.1 882.6,410.6M1123.2,441.6 1122.3,442.6M1117.7,447.2 1115.1,449.4 1112.2,451.6M938.8,413.3 936.6,410.8 934.5,408.3 932.5,405.8 930.5,403.3 929.3,401.8 928.5,400.8 926.4,398.3 924.4,395.8 922.5,393.3M1097.4,400.3 1095.5,402.5M1090.9,407.1 1088.1,409.3M966.2,383.4 964,380.9 961.9,378.4 959.8,375.9 957.7,373.4 955.6,370.9 954,369M1000.1,260.7 1003.2,263.2 1006.5,265.8M1014.4,318.8 1012.5,321.1M1002.3,325.3 999.1,322.7M979,271.4 980.9,269.2M983.3,266.9 986.2,264.7"/>
<path stroke-width="1.5" d="M866.9,604.8 864.4,603.2 862.8,602.2 858.7,599.5 854.7,596.9 850.6,594.3 846.7,591.7 844.9,590.5 842.8,589.1 839.1,586.5 835.4,583.9 831.6,581.3 828,578.7M790.7,538.4 790,537.5 789,535.9M889.8,577 887.8,575.8 885.4,574.4 881.2,571.7 877,569.1 872.9,566.5 868.7,563.9 868.2,563.6 864.7,561.3 861,558.7M849.1,549.3 847.8,548.4M812.4,513 810.6,510.5 809,508 807.4,505.5 805.9,503M1177.3,544.8 1173.8,547M1166.1,551.4 1162.5,553.5 1159,555.7 1158.2,556.2M1155.9,557.9 1152.7,560.2 1149.3,562.4M911.2,548.4 908.2,546.6 903.9,543.9 899.6,541.3M891.5,536.6 890.6,536 886.6,533.4 882.8,530.8 879,528.2 875.1,525.6 872.1,523.5M835.8,486.8 834.6,485.1 832.8,482.7 831.1,480.2 829.4,477.7 827.8,475.2 826.2,472.7 824.7,470.3 823.2,467.8 821.7,465.3 820.2,462.8M1191,475.9 1189.5,478.2 1187.8,480.5 1186.1,482.8 1184.5,485.1M1136.4,528.5 1134.1,530.1 1130.6,532.3 1127,534.5M935,519.2 934.7,519 930.4,516.4 926.2,513.7 922,511.1 917.6,508.5 915.4,507.1 913.6,505.9 910.1,503.3M860,456.3 859.2,455.1 857.5,452.6 855.9,450.1 854.3,447.6 852.6,445.1 850.9,442.7 849.2,440.2 847.5,437.7 845.8,435.2 844.1,432.7 843.4,431.5M1153,461.5 1151.5,463.8 1150,466.1 1148.3,468.4M1119.6,495.4 1116.5,497.7 1115.1,498.6M953.4,481.4 949.4,478.8M940,471.1 936.4,468.5M889.8,420.5 888,418.1 886.6,415.9M882.6,410.6 880.8,408.1 879.2,405.6 877.6,403.1 876.1,400.7M1127,435.7 1125.6,438 1124.1,440.4 1123.2,441.6M1112.2,451.6 1109.2,453.9 1105.9,456.1 1102.5,458.3 1098.8,460.4M980.2,449.1 975.8,446.4 971.4,443.8 967.1,441.2 965.2,439.9M922.5,393.3 920.7,390.8 919.1,388.3 917.6,385.9M1098.9,398 1097.4,400.3M1088.1,409.3 1084.9,411.5 1081.3,413.7M991.4,401 988.1,399 983.8,396.3M954,369 953.6,368.4M1006.5,265.8 1010.3,268.4 1014.7,271M1015.9,316.5 1014.4,318.8M1010,323.3 1006.5,325.5M977.7,273.8 979,271.4M986.2,264.7 989.6,262.5"/>
<path stroke-width="1.6" d="M789,535.9 787.6,533.5 786.2,531 785,528.5 783.8,526.1 782.6,523.6 781.4,521.2 780.3,518.7 779.2,516.3 778.1,513.8 777,511.4M1179.3,586.6 1176.4,588.1 1172,590.3 1167.8,592.4 1163.8,594.6 1160,596.8M899,582.3 894.3,579.6 889.8,577M805.9,503 804.5,500.6 803.1,498.1 801.7,495.6 800.3,493.2 799,490.7 797.6,488.2 796.6,486.4M1173.8,547 1169.9,549.2 1166.1,551.4M1149.3,562.4 1145.6,564.5 1141.5,566.7 1137.1,568.8 1132.4,571M931.4,558.5 928.7,557.3 923.1,554.6 917.8,551.9 912.7,549.2 911.2,548.4M899.6,541.3 895.1,538.7 891.5,536.6M820.2,462.8 819.4,461.4 818.9,460.4 817.8,457.9 816.6,455.5 815.5,453 814.4,450.6 813.3,448.1M1192.1,473.6 1191,475.9M1127,534.5 1123.3,536.6 1119.4,538.8 1115.5,541 1111.6,543.2 1110,544M955.4,528.5 952.2,527.1 946.3,524.4 940.4,521.7 935,519.2M841.8,427.8 840.7,425.4 839.6,422.9 838.6,420.5M1157.8,452.2 1156.7,454.5 1155.6,456.8 1154.3,459.1 1153,461.5M1115.1,498.6 1112.6,499.8 1107.8,501.9M963.6,486.8 960.1,485.2 958,484.1 953.4,481.4M876.1,400.7 874.7,398.2 873.4,395.7 872.1,393.3 870.9,390.8 870.3,389.7 869.8,388.4M1130.6,428.8 1129.5,431.1 1128.3,433.4 1127,435.7M1098.8,460.4 1095.5,462.3M984.9,451.7 980.2,449.1M917.6,385.9 916.1,383.4 914.8,380.9 913.5,378.5 912.8,377 912.3,376 911,373.6 909.9,371.1M1100.1,395.6 1098.9,398M1081.3,413.7 1078.4,415.3M983.8,396.3 979.3,393.7 974.6,391 971.7,389.4M953.6,368.4 952.3,365.9 951,363.5 949.8,361 948.5,358.5 947.4,356.1 946.2,353.6 945.1,351.2 944,348.7M1014.7,271 1017,272.4M1017,314.2 1015.9,316.5M999.1,322.7 994.4,320.1M989.6,262.5 993.8,260.3"/>
<path stroke-width="1.7" d="M777,511.4 775.9,508.9 775,506.6 774.9,506.5 773.9,504 772.9,501.6 771.9,499.1 770.9,496.7 770,494.3 769.3,491.8 768.5,489.4 767.8,487 767.1,484.5 766.5,482.1 765.8,479.7M796.6,486.4 796.4,485.8 795.3,483.3 794.3,480.9 793.2,478.4 792.2,476 791.3,473.6 790.4,471.1 789.6,468.7 788.8,466.3 788.1,463.8 787.3,461.4 786.6,459 785.8,456.5 785.1,454.1 784.5,451.7M934.9,560 931.4,558.5M813.3,448.1 812.2,445.7 811.2,443.2 810.3,440.8 809.5,438.3 808.6,435.9 807.8,433.5 807,431 806.3,428.6 805.6,426.2 805.5,425.8M1196.4,454.7 1195.8,457.1 1195.1,459.4 1194.5,461.8 1193.9,464.1M1110,544 1105.2,545.2M984,538.5 976.1,536.2 974.2,535.5 966.8,532.7 959.1,529.9 955.4,528.5M843.4,431.5 842.9,430.3 841.8,427.8M838.6,420.5 837.5,418 836.5,415.6 835.5,413.1 834.6,410.7 833.7,408.3 832.8,405.8 831.9,403.4 831.2,400.9 830.5,398.5M1162.4,438.1 1161.8,440.4 1161.2,442.8 1160.5,445.1 1159.7,447.5 1158.8,449.8 1157.8,452.2M1107.8,501.9 1102.5,504 1096.9,506.1 1090.8,508.2 1090.1,508.4M1022.4,507.6 1018.4,506.5 1007.9,503.6 1001.3,501.6 998.4,500.6 990.8,497.8 983.7,495.1 980.6,493.8 976.9,492.3 970.1,489.5 963.6,486.8M869.8,388.4 868.8,385.9 867.8,383.5 866.9,381 866.1,378.6 865.3,376.2 864.6,373.8 864,371.3 863.4,368.9M864.3,325.9 864.9,323.6 865.5,321.2 866.3,318.9M1133.7,419.4 1133.1,421.7 1132.4,424.1 1131.5,426.4 1130.6,428.8M1095.5,462.3 1094.4,462.6M1027,464.7 1022.8,463.4 1013.2,460.5 1005.9,458.4 1003.6,457.5 994.8,454.7 985,451.7 984.9,451.7M909.9,371.1 908.8,368.7 907.8,366.2 906.9,363.8 906,361.3 905.1,358.9 904.2,356.5 903.4,354 902.7,351.6 902,349.2 901.4,346.7M901,301.3 901.6,299 902.3,296.6M1100.6,374.2 1101.3,376.6M1101.7,390.9 1101,393.3 1100.1,395.6M1033.3,414.8 1027.1,413.1 1016.1,410.1 1012.1,409 1007.5,407.2 1000.4,404.4 993,401.6 991.4,401M944,348.7 942.9,346.3 941.9,343.8 940.9,341.4 940,338.9 939.3,336.9 939.2,336.5 938.4,334.1 937.8,331.7 937.1,329.2 936.5,326.8M934.4,283.7 935,281.3 935.6,279 936.4,276.6 937.2,274.3M993.8,260.3 997.7,258.8M1017,272.4 1017.5,273.6 1018.2,276 1018.8,278.4M1019.3,307.1 1018.7,309.5 1018,311.8 1017,314.2M1006.5,325.5 1003.7,326.7M994.4,320.1 987.4,317.3 983.7,316 983.2,314.7 982.5,312.3 981.8,309.8 981.1,307.4 980.4,305 979.8,302.5 979.1,300.1 978.5,297.7M976.8,276.1 977.7,273.8"/>
<path stroke-width="1.8" d="M765.8,479.7 765.3,477.3 764.8,474.9 764.4,472.4 764,470 763.6,467.6 763.2,465.2 762.9,463.6 762.7,462.8 762.3,460.4 761.9,458 761.6,455.6 761.4,453.2 761.1,450.8 760.8,448.4 760.6,446 760.4,443.6 760.2,441.2 760.1,438.8 760,436.4 759.9,434 759.9,431.6 759.8,429.2M784.5,451.7 783.9,449.3 783.5,447.5 783.4,446.8 782.9,444.4 782.5,442 782.1,439.6 781.8,437.2 781.6,434.8 781.3,432.4 781.1,430 780.9,427.6 780.7,425.2 780.5,422.8 780.4,420.4 780.3,418 780.2,415.6 780.1,413.2 780.1,410.8 780,408.4 780,406 780,403.6M805.5,425.8 805.2,423.8 804.8,421.4 804.4,419 804,416.5 803.7,414.1 803.3,411.7 803.1,409.3 802.9,406.9 802.7,404.5 802.5,402.1 802.3,399.7 802.2,397.3 802.2,394.9 802.1,392.5 802.1,390.2 802.1,387.8 802.1,385.4 802.2,383 802.2,380.6 802.3,378.2 802.4,375.8 802.6,373.5M1195.4,437.9 1195.7,440.3 1196.1,442.7 1196.4,445.1 1196.7,447.5 1196.8,449.9 1196.8,452.3 1196.4,454.7M1193.9,464.1 1193.3,466.5 1192.9,468.8 1192.6,471.2 1192.1,473.6M830.5,398.5 829.9,396.1 829.7,395.1 829.5,393.7 829.3,391.3 829,388.9 828.8,386.5 828.6,384.1 828.5,381.7 828.4,379.3 828.3,376.9 828.3,374.5 828.3,372.1 828.4,369.7 828.4,367.3 828.5,365 828.6,362.6 828.7,360.2 828.8,357.8 829,355.4 829.2,353.1 829.5,350.7 829.8,348.3 830.3,345.9M1164.7,411.9 1165,414.3 1165.1,416.7 1165.1,419.1 1165.1,421.5 1164.9,423.9 1164.6,426.3 1164.3,428.6 1163.9,431 1163.5,433.4 1163,435.7 1162.4,438.1M1090.1,508.4 1079.1,509.9 1066.8,511.3 1059.5,511.2 1044.3,510.9 1037.9,510 1022.4,507.6M863.4,368.9 862.8,366.5 862.3,364.1 861.8,361.7 861.5,359.2 861.2,356.8 861.1,354.4 861,352 861.1,349.7 861.3,347.3 861.5,344.9 861.7,342.5 861.9,340.2 862.2,337.8 862.5,335.4 862.8,333 863.3,330.7 863.7,328.3 864.3,325.9M1135.5,395.6 1135.7,398 1135.8,400.4 1135.8,402.8 1135.7,405.2 1135.5,407.5 1135.3,409.9 1135,412.3 1134.6,414.7 1134.2,417 1133.7,419.4M1094.4,462.6 1086.1,464.5 1077.1,466.4 1071.6,467.5 1059.7,467.8 1048.8,468.1 1040.5,466.8 1027,464.7M901.4,346.7 900.8,344.3 900.3,341.9 899.8,339.5 899.6,338.4 899.3,337.1 898.9,334.7 898.6,332.2 898.3,329.8 898.2,327.4 898.1,325.1 898.1,322.7 898.2,320.3 898.4,317.9 898.6,315.5 898.9,313.2 899.2,310.8 899.5,308.4 899.9,306 900.4,303.7 901,301.3M1101.3,376.6 1101.9,379 1102.3,381.4 1102.5,383.8 1102.4,386.2 1102.2,388.6 1101.7,390.9M1078.4,415.3 1075.1,415.7 1061.5,417.4 1055.1,418 1044.8,416.4 1033.3,414.8M936.5,326.8 935.9,324.4 935.4,322 935,319.6 934.6,317.1 934.2,314.7 933.8,312.3 933.5,309.9 933.2,307.5 933,305.1 932.8,302.7 932.7,300.3 932.7,297.9 932.8,295.5 932.9,293.2 933.2,290.8 933.5,288.4 933.9,286 934.4,283.7M1018.8,278.4 1019.3,280.9 1019.7,283.3 1020,285.7 1020.3,288.1 1020.5,290.5 1020.5,292.9 1020.6,295.3 1020.5,297.6 1020.4,300 1020.1,302.4 1019.8,304.8 1019.3,307.1M978.5,297.7 977.9,295.3 977.4,292.9 976.9,290.4 976.5,288 976.1,285.6 976,283.2 976,280.8 976.2,278.5 976.8,276.1"/>
</g>
<g shape-rendering="crispEdges" fill="none" stroke="#a000a0" stroke-linejoin="bevel">
<polyline stroke-width="1.7" points="771.8,463.3 773.9,460.9 776.1,458.5 778.3,456.1 780.5,453.7 782.7,451.4 785,449 787.2,446.6 789.4,444.2 791.7,441.8 794,439.4 796.3,437.1 798.6,434.7 800.9,432.4 803.2,430.1 805.6,427.8 808,425.5 810.4,423.3 812.8,421 815.3,418.9 817.8,416.7 820.3,414.6 822.8,412.5 825.3,410.5 827.9,408.5 830.5,406.5 833.2,404.6 835.8,402.7 838.5,400.9 841.3,399.1 844,397.4 846.8,395.7 849.6,394 852.4,392.3 855.2,390.7 858,389.1 860.9,387.5 863.7,385.9 866.6,384.3 869.5,382.7 872.3,381.1 875.2,379.6 878.1,378 880.9,376.4 883.8,374.8 886.6,373.2 889.5,371.6 892.3,369.9 895.1,368.3 897.9,366.6 900.7,364.8 903.5,363.1 906.2,361.3 909,359.5 911.7,357.6 914.3,355.7 917,353.8 919.7,351.9 922.4,349.9 925,348 927.7,346 930.3,344.1 933,342.2 935.7,340.3 938.4,338.4 941.1,336.5 943.8,334.6 946.5,332.8 949.3,331.1 952.1,329.3 954.9,327.6 957.8,326 960.7,324.5 963.6,323 966.6,321.6 969.6,320.2 972.6,319.1 975.7,318 978.8,317.1 981.9,316.4 985.1,315.8 988.4,315.4 991.6,315.2 994.8,315.1 998.1,315.2 1001.4,315.3 1004.6,315.6 1007.9,316 1011.1,316.4 1014.3,317 1017.5,317.6 1020.6,318.2 1023.8,319 1026.9,319.8 1030,320.7 1033.1,321.6 1036.2,322.7 1039.2,323.7 1042.3,324.9 1045.3,326 1048.3,327.3 1051.2,328.6"/>
<polyline stroke-width="1.2" points="1051.2,328.6 1054.2,329.9 1057.2,331.3 1060.1,332.7 1063,334.2 1065.9,335.7 1068.8,337.3 1071.7,338.9 1074.5,340.5 1077.4,342.2 1080.2,343.9 1083,345.6 1085.9,347.3 1088.7,349.1 1091.4,350.9 1094.2,352.7 1097,354.6 1099.7,356.4 1102.5,358.3 1105.2,360.2 1107.9,362.1 1110.7,364 1113.4,365.9 1116.1,367.8 1118.8,369.7 1121.5,371.6 1124.1,373.5 1126.8,375.4 1129.5,377.3 1132.1,379.2 1134.8,381.1 1137.4,383 1140.1,384.9 1142.7,386.8 1145.3,388.7 1147.9,390.6 1150.6,392.5 1153.1,394.4 1155.7,396.4 1158.3,398.3 1160.9,400.3 1163.4,402.2 1166,404.2 1168.5,406.2 1171,408.2 1173.5,410.3 1176,412.3 1178.5,414.4 1181,416.5 1183.5,418.7 1185.9,420.9 1188.4,423.1 1190.8,425.3 1193.2,427.6 1195.6,429.9 1197.9,432.2 1200.3,434.6 1202.6,437 1205,439.5"/>
</g>
<g font-size="10" letter-spacing="0.44" fill="#c86000" stroke="#c86000" stroke-width="0.12">
<text x="768" y="476">0.900</text>
<text x="788.5" y="453">0.905</text>
<text x="811" y="430">0.910</text>
<text x="839" y="408">0.915</text>
<text x="1009" y="320.3">0.935</text>
<text x="1073" y="412">0.930</text>
<text x="1052" y="463">0.925</text>
<text x="1047" y="505">0.920</text>
<text x="1165" y="549.5">0.910</text>
<text x="1173.5" y="586.5">0.905</text>
<text x="1183.7" y="375.5">0.910</text>
<text x="1202.7" y="381.5">0.905</text>
<text x="1224" y="391.5">0.900</text>
<text x="1193.8" y="424.7">0.915</text>
</g>
<path shape-rendering="crispEdges" fill="none" stroke="#000" stroke-width="0.99" d="M685.5 785L1176.6 812.3M685.5 785L685.5 351.9M1176.6 812.3L1176.6 379.2M685.5 351.9L1176.6 379.2M685.5 351.9L743.3 116.2M743.3 116.2L1234.4 143.5M1176.6 379.2L1234.4 143.5M1234.4 143.5L1234.4 576.6M1176.6 812.3L1234.4 576.6M685.5 785v6.5M707.8 786.2v3M730.1 787.5v6.5M752.5 788.7v3M774.8 790v6.5M797.1 791.2v3M819.4 792.4v6.5M841.8 793.7v3M864.1 794.9v6.5M886.4 796.2v3M908.7 797.4v6.5M931 798.7v3M953.4 799.9v6.5M975.7 801.1v3M998 802.4v6.5M1020.3 803.6v3M1042.7 804.9v6.5M1065 806.1v3M1087.3 807.3v6.5M1109.6 808.6v3M1132 809.8v6.5M1154.3 811.1v3M1176.6 812.3v6.5M1234.4 577.1l6.5 0.4M1228.6 600.7l3.5 0.2M1222.8 624.2l6.5 0.4M1217.1 647.8l3.5 0.2M1211.3 671.4l6.5 0.4M1205.5 695l3.5 0.2M1199.7 718.5l6.5 0.4M1193.9 742.1l3.5 0.2M1188.2 765.7l6.5 0.4M1182.4 789.2l3.5 0.2M1176.6 812.8l6.5 0.4M685.5 764.1h-2.5M685.5 739.8h-5.5M685.5 715.6h-2.5M685.5 691.3h-5.5M685.5 667h-2.5M685.5 642.7h-5.5M685.5 618.5h-2.5M685.5 594.2h-5.5M685.5 569.9h-2.5M685.5 545.6h-5.5M685.5 521.4h-2.5M685.5 497.1h-5.5M685.5 472.8h-2.5M685.5 448.5h-5.5M685.5 424.3h-2.5M685.5 400h-5.5M685.5 375.7h-2.5M685.5 351.4h-5.5"/>
<g font-size="10" letter-spacing="0.44" fill="#000" stroke="#000" stroke-width="0.15">
<text x="685.7" y="804.3" text-anchor="middle">13</text>
<text x="730.3" y="806.8" text-anchor="middle">14</text>
<text x="775" y="809.3" text-anchor="middle">15</text>
<text x="819.6" y="811.7" text-anchor="middle">16</text>
<text x="864.3" y="814.2" text-anchor="middle">17</text>
<text x="908.9" y="816.7" text-anchor="middle">18</text>
<text x="953.6" y="819.2" text-anchor="middle">19</text>
<text x="998.2" y="821.7" text-anchor="middle">20</text>
<text x="1042.9" y="824.2" text-anchor="middle">21</text>
<text x="1087.5" y="826.6" text-anchor="middle">22</text>
<text x="1132.2" y="829.1" text-anchor="middle">23</text>
<text x="1176.8" y="831.6" text-anchor="middle">24</text>
<text x="1243.6" y="581.4">50</text>
<text x="1232" y="628.5">52</text>
<text x="1220.5" y="675.7">54</text>
<text x="1208.9" y="722.8">56</text>
<text x="1197.4" y="770">58</text>
<text x="1185.8" y="817.1">60</text>
<text x="676.9" y="742.2" text-anchor="end">0.87</text>
<text x="676.9" y="693.7" text-anchor="end">0.88</text>
<text x="676.9" y="645.1" text-anchor="end">0.89</text>
<text x="676.9" y="596.6" text-anchor="end">0.9</text>
<text x="676.9" y="548" text-anchor="end">0.91</text>
<text x="676.9" y="499.5" text-anchor="end">0.92</text>
<text x="676.9" y="450.9" text-anchor="end">0.93</text>
<text x="676.9" y="402.4" text-anchor="end">0.94</text>
<text x="676.9" y="353.8" text-anchor="end">0.95</text>
</g>
<g font-size="17.9" fill="#000" stroke="#000" stroke-width="0.75" stroke-linejoin="round">
<text x="535.1" y="573">Rendement (-)</text>
<text x="854" y="845">Ouverture (degrés)</text>
<text x="1232" y="701.6">n11 (tpm)</text>
</g>
</svg></body></html>
